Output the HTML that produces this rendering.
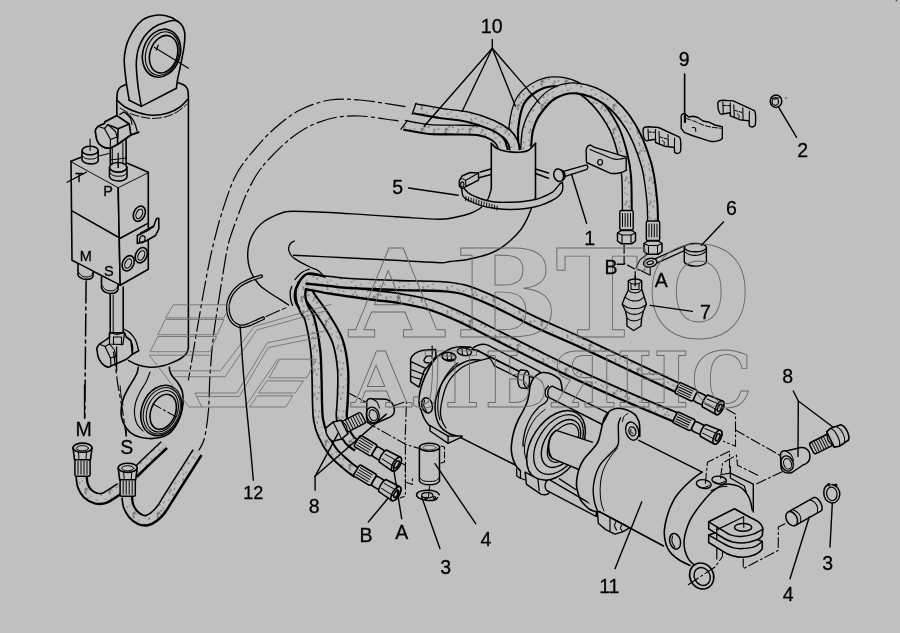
<!DOCTYPE html>
<html><head><meta charset="utf-8"><title>Hydraulic cylinder diagram</title>
<style>
html,body{margin:0;padding:0;background:#c0c0c0;}
body{width:900px;height:633px;overflow:hidden;}
svg{display:block;filter:grayscale(1);font-family:"Liberation Sans",sans-serif;fill:#000;}

</style></head><body>
<svg width="900" height="633" viewBox="0 0 900 633" stroke-linecap="round" stroke-linejoin="round">
<defs><pattern id="stip" width="24" height="24" patternUnits="userSpaceOnUse"><rect width="24" height="24" fill="#c0c0c0"/><circle cx="7.8" cy="3.6" r="0.65" fill="#222"/><circle cx="1.7" cy="12.9" r="0.56" fill="#222"/><circle cx="1.4" cy="12.2" r="0.46" fill="#222"/><circle cx="10.4" cy="1.7" r="0.48" fill="#222"/><circle cx="10.2" cy="19.8" r="0.49" fill="#222"/><circle cx="5.4" cy="15.1" r="0.73" fill="#222"/><circle cx="13.9" cy="9.5" r="0.74" fill="#222"/><circle cx="1.1" cy="20.6" r="0.54" fill="#222"/><circle cx="3.5" cy="2.8" r="0.54" fill="#222"/><circle cx="19.6" cy="4.3" r="0.62" fill="#222"/><circle cx="15.3" cy="8.9" r="0.61" fill="#222"/><circle cx="1.5" cy="1.4" r="0.51" fill="#222"/><circle cx="16.3" cy="10.3" r="0.54" fill="#222"/><circle cx="14.1" cy="10.9" r="0.54" fill="#222"/><circle cx="19.1" cy="16.8" r="0.52" fill="#222"/><circle cx="13.8" cy="12.6" r="0.71" fill="#222"/><circle cx="17.5" cy="6.9" r="0.74" fill="#222"/><circle cx="2.8" cy="10.0" r="0.68" fill="#222"/><circle cx="3.6" cy="11.7" r="0.46" fill="#222"/><circle cx="16.0" cy="18.3" r="0.62" fill="#222"/><circle cx="21.0" cy="7.5" r="0.66" fill="#222"/><circle cx="14.3" cy="13.9" r="0.59" fill="#222"/><circle cx="20.2" cy="22.7" r="0.59" fill="#222"/><circle cx="15.9" cy="1.5" r="0.66" fill="#222"/><circle cx="15.5" cy="23.8" r="0.70" fill="#222"/><circle cx="6.8" cy="9.3" r="0.65" fill="#222"/></pattern></defs>
<rect width="900" height="633" fill="#c0c0c0"/>
<rect x="895.6" y="0" width="1.6" height="1.4" fill="#555"/>
<path d="M405.0 106.6 C402.5 106.2 397.5 105.3 390.0 104.2 C382.5 103.1 370.0 100.7 360.0 100.0 C350.0 99.3 340.0 98.3 330.0 100.0 C320.0 101.7 309.2 105.3 300.0 110.0 C290.8 114.7 282.7 121.3 275.0 128.0 C267.3 134.7 260.5 142.2 254.0 150.0 C247.5 157.8 241.3 164.8 236.0 175.0 C230.7 185.2 226.4 198.5 222.4 211.0 C218.4 223.5 215.1 236.8 212.0 250.0 C208.9 263.2 206.5 276.7 204.0 290.0 C201.5 303.3 199.2 317.5 197.0 330.0 C194.8 342.5 192.4 356.7 191.0 365.0 C189.6 373.3 188.8 377.5 188.4 380.0" fill="none" stroke="#000" stroke-width="1.2" stroke-dasharray="20 4 3 4"/>
<path d="M398.0 120.8 C395.8 120.5 391.3 119.8 385.0 119.0 C378.7 118.2 368.3 116.2 360.0 116.0 C351.7 115.8 343.3 115.8 335.0 117.5 C326.7 119.2 317.5 122.4 310.0 126.0 C302.5 129.6 296.7 133.7 290.0 139.0 C283.3 144.3 275.6 152.1 270.0 158.0 C264.4 163.9 260.7 168.3 256.7 174.5 C252.7 180.7 248.8 188.9 246.0 195.0 C243.2 201.1 242.1 204.5 239.6 211.2 C237.1 217.9 233.1 228.5 231.0 235.0 C228.9 241.5 228.4 242.9 227.0 250.0 C225.6 257.1 223.9 268.2 222.4 277.4 C220.9 286.6 219.6 294.6 218.0 305.0 C216.4 315.4 214.3 328.3 213.0 340.0 C211.7 351.7 210.8 363.3 210.0 375.0 C209.2 386.7 209.4 399.5 208.5 410.0 C207.6 420.5 206.1 431.3 204.5 438.0 C202.9 444.7 199.9 448.0 199.0 450.0" fill="none" stroke="#000" stroke-width="1.2" stroke-dasharray="20 4 3 4"/>
<line x1="116.8" y1="98.0" x2="116.8" y2="120.0" stroke="#000" stroke-width="1.6" />
<line x1="188.4" y1="96.0" x2="188.4" y2="348.0" stroke="#000" stroke-width="1.6" />
<path d="M116.8 99.0 C116.9 97.8 117.0 93.9 117.5 92.0 C118.0 90.1 118.6 88.8 120.0 87.5 C121.4 86.2 125.0 85.0 126.0 84.5" fill="none" stroke="#000" stroke-width="1.6" />
<path d="M178.0 82.5 C179.0 82.9 182.4 83.9 184.0 85.0 C185.6 86.1 186.8 87.2 187.5 89.0 C188.2 90.8 188.2 94.8 188.4 96.0" fill="none" stroke="#000" stroke-width="1.6" />
<path d="M116.8 100.0 C118.2 101.2 121.5 104.9 125.0 107.0 C128.5 109.1 133.4 111.1 138.0 112.5 C142.6 113.9 147.3 115.1 152.3 115.2 C157.3 115.3 163.4 114.4 168.0 113.0 C172.6 111.6 176.6 109.4 180.0 107.0 C183.4 104.6 187.0 99.9 188.4 98.5" fill="none" stroke="#000" stroke-width="1.6" />
<path d="M120.0 108.0 C121.7 108.9 126.3 112.0 130.0 113.5 C133.7 115.0 138.3 116.2 142.0 117.0 C145.7 117.8 148.2 118.4 152.0 118.4 C155.8 118.4 160.8 118.1 165.0 117.0 C169.2 115.9 173.4 114.1 177.0 112.0 C180.6 109.9 184.9 105.8 186.5 104.5" fill="none" stroke="#000" stroke-width="1.0" stroke-dasharray="9 2.5"/>
<path d="M129.2 100.3 C128.7 96.9 126.8 86.7 126.0 80.0 C125.2 73.3 124.2 65.7 124.2 60.2 C124.2 54.7 125.2 50.7 126.0 47.0 C126.8 43.3 127.7 41.3 129.2 38.1 C130.7 34.9 132.8 31.0 135.0 28.0 C137.2 25.0 139.8 22.0 142.3 20.1 C144.8 18.2 147.3 17.4 150.0 16.5 C152.7 15.7 155.6 15.1 158.3 15.0 C161.0 14.9 163.7 15.3 166.0 15.8 C168.3 16.3 171.3 17.6 172.4 18.0" fill="none" stroke="#000" stroke-width="1.6" />
<path d="M141.3 106.4 C140.8 103.0 138.8 92.7 138.0 86.0 C137.2 79.3 136.5 71.4 136.3 66.2 C136.1 61.0 136.5 58.3 137.0 55.0 C137.5 51.7 138.1 49.2 139.3 46.2 C140.5 43.2 142.2 39.7 144.0 37.0 C145.8 34.3 148.0 32.1 150.3 30.1 C152.6 28.1 155.3 26.3 158.0 25.0 C160.7 23.7 163.9 22.9 166.4 22.1 C168.9 21.4 171.1 20.6 173.0 20.5 C174.9 20.4 176.4 20.6 178.0 21.5 C179.6 22.4 181.3 24.2 182.4 26.0 C183.5 27.8 184.2 30.0 184.6 32.0 C185.0 34.0 184.9 35.5 184.8 38.0 C184.7 40.5 184.4 44.0 184.0 47.0 C183.6 50.0 183.1 52.5 182.4 56.0 C181.7 59.5 180.8 64.0 180.0 68.0 C179.2 72.0 178.0 76.9 177.4 80.3 C176.8 83.7 176.6 87.0 176.4 88.3 L141.3 106.4" fill="#c0c0c0" stroke="#000" stroke-width="1.6" />
<path d="M172.4 18.0 L178.0 21.5" fill="none" stroke="#000" stroke-width="1.6" />
<path d="M129.2 100.3 L141.3 106.4" fill="none" stroke="#000" stroke-width="1.6" />
<ellipse cx="161.5" cy="53.2" rx="18.5" ry="24.5" fill="none" stroke="#000" stroke-width="1.6" transform="rotate(18.0 161.5 53.2)" />
<ellipse cx="162.3" cy="53.6" rx="16.3" ry="22.3" fill="none" stroke="#000" stroke-width="1.1" transform="rotate(18.0 162.3 53.6)" />
<ellipse cx="163.6" cy="54.2" rx="13.6" ry="19.2" fill="none" stroke="#000" stroke-width="1.6" transform="rotate(18.0 163.6 54.2)" />
<line x1="154.3" y1="47.2" x2="188.4" y2="68.2" stroke="#000" stroke-width="1.2" />
<line x1="158.3" y1="45.0" x2="156.3" y2="50.0" stroke="#000" stroke-width="1.2" />
<path d="M71.0 161.2 L118.2 187.3 L120.2 285.3 L72.0 260.2Z" fill="#c0c0c0" stroke="#000" stroke-width="1.6" />
<path d="M118.2 187.3 L148.3 172.3 L148.3 269.3 L120.2 285.3Z" fill="#c0c0c0" stroke="#000" stroke-width="1.6" />
<path d="M71.0 161.2 L103.2 150.2 L148.3 172.3 L118.2 187.3Z" fill="#c0c0c0" stroke="none" stroke-width="1.6" />
<path d="M71.0 161.2 L81.0 157.3" fill="none" stroke="#000" stroke-width="1.6" />
<path d="M99.0 156.0 L109.0 153.5" fill="none" stroke="#000" stroke-width="1.0" />
<path d="M127.5 163.3 L148.3 172.3" fill="none" stroke="#000" stroke-width="1.6" />
<path d="M72.4 211.1 L120.2 238.2 L148.3 223.1" fill="none" stroke="#000" stroke-width="1.6" />
<ellipse cx="139.3" cy="213.7" rx="5.6" ry="8.0" fill="none" stroke="#000" stroke-width="1.6" transform="rotate(25.0 139.3 213.7)" />
<ellipse cx="139.3" cy="213.9" rx="3.0" ry="5.0" fill="none" stroke="#000" stroke-width="1.1" transform="rotate(25.0 139.3 213.9)" />
<ellipse cx="141.3" cy="255.2" rx="5.6" ry="8.0" fill="none" stroke="#000" stroke-width="1.6" transform="rotate(25.0 141.3 255.2)" />
<ellipse cx="141.3" cy="255.4" rx="3.0" ry="5.0" fill="none" stroke="#000" stroke-width="1.1" transform="rotate(25.0 141.3 255.4)" />
<ellipse cx="128.2" cy="263.3" rx="5.6" ry="8.0" fill="none" stroke="#000" stroke-width="1.6" transform="rotate(25.0 128.2 263.3)" />
<ellipse cx="128.2" cy="263.5" rx="3.0" ry="5.0" fill="none" stroke="#000" stroke-width="1.1" transform="rotate(25.0 128.2 263.5)" />
<path d="M137.3 235.5 L137.3 243.5 L146 241 L155.5 235.5 L158.8 229 L158.8 218.2 L156.5 218.5 L153.5 226.5 L146.5 231 Z" fill="#c0c0c0" stroke="#000" stroke-width="1.6" />
<ellipse cx="142.3" cy="239.2" rx="2.6" ry="3.6" fill="none" stroke="#000" stroke-width="1.2" transform="rotate(20.0 142.3 239.2)" />
<path d="M140.0 233.0 L153.0 226.0" fill="none" stroke="#000" stroke-width="1.0" />
<path d="M82 151 L82 160 C84 164.5 96 165.5 98.2 161 L98.2 151" fill="#c0c0c0" stroke="#000" stroke-width="1.6" />
<ellipse cx="90.1" cy="150.6" rx="8.0" ry="4.3" fill="#c0c0c0" stroke="#000" stroke-width="1.6" />
<path d="M82.2 155.5 C82.8 156.0 84.0 158.0 86.0 158.6 C88.0 159.2 92.0 159.2 94.0 158.8 C96.0 158.4 97.3 156.5 98.0 156.0" fill="none" stroke="#000" stroke-width="1.0" />
<line x1="90.1" y1="139.2" x2="90.1" y2="150.5" stroke="#000" stroke-width="1.1" />
<path d="M109.5 167.5 L109.5 177 C112 182 125 182.5 127 177 L127 167.5" fill="#c0c0c0" stroke="#000" stroke-width="1.6" />
<ellipse cx="118.2" cy="167.3" rx="8.6" ry="4.8" fill="#c0c0c0" stroke="#000" stroke-width="1.6" />
<path d="M109.7 172.5 C110.4 173.1 111.8 175.2 114.0 175.8 C116.2 176.4 120.9 176.3 123.0 175.8 C125.1 175.3 126.2 173.3 126.8 172.8" fill="none" stroke="#000" stroke-width="1.0" />
<line x1="118.2" y1="154.5" x2="118.2" y2="167.5" stroke="#000" stroke-width="1.1" />
<line x1="110.2" y1="160.0" x2="126.2" y2="158.0" stroke="#000" stroke-width="1.0" />
<rect x="110.3" y="140" width="15.8" height="21" fill="#c0c0c0" stroke="none"/>
<line x1="110.3" y1="147.5" x2="110.3" y2="164.0" stroke="#000" stroke-width="1.6" />
<line x1="112.3" y1="148.0" x2="112.3" y2="164.0" stroke="#000" stroke-width="1.0" />
<line x1="126.1" y1="140.0" x2="126.1" y2="164.0" stroke="#000" stroke-width="1.6" />
<line x1="122.9" y1="143.0" x2="122.9" y2="164.0" stroke="#000" stroke-width="1.0" />
<line x1="118.2" y1="153.0" x2="118.2" y2="167.5" stroke="#000" stroke-width="1.2" />
<line x1="110.2" y1="160.0" x2="126.2" y2="158.0" stroke="#000" stroke-width="1.0" />
<path d="M119.8 114.5 L123.7 112.1" fill="none" stroke="#000" stroke-width="1.3" />
<path d="M123.7 112.1 C124.6 112.6 127.5 113.8 129.0 115.0 C130.4 116.2 131.4 117.7 132.4 119.2 C133.4 120.7 134.3 122.5 135.0 124.0 C135.7 125.5 136.0 126.6 136.3 127.9 C136.7 129.2 137.0 131.2 137.1 131.9" fill="none" stroke="#000" stroke-width="1.3" />
<path d="M126.1 113.7 C126.8 114.5 129.5 116.7 130.5 118.5 C131.5 120.3 131.8 123.5 132.0 124.5" fill="none" stroke="#000" stroke-width="1.1" />
<path d="M104.7 122 L116.6 115.7 L129.2 124 L130.8 135 L138.7 132.3 M130.8 135 L117.4 144.5 L111.1 147.7 C104 149.5 98 144 96.8 139.8 L95.3 131.1 C95.8 127.5 97.6 126.3 104.7 123.6 Z" fill="#c0c0c0" stroke="#000" stroke-width="1.6" />
<path d="M104.7 122 L116.6 115.7 L129.2 124 L130.8 135 L117.4 144.5 L111.1 147.7 C104 149.5 98 144 96.8 139.8 L95.3 131.1 C95.8 127.5 97.6 126.3 104.7 123.6 Z" fill="#c0c0c0" stroke="#000" stroke-width="1.6" />
<path d="M130.8 135.0 L138.7 132.3" fill="none" stroke="#000" stroke-width="1.6" />
<path d="M107.9 124.7 L118.2 128.7 L129.2 124.0" fill="none" stroke="#000" stroke-width="1.6" />
<path d="M118.2 128.7 L117.4 144.5" fill="none" stroke="#000" stroke-width="1.6" />
<path d="M97.6 126.3 L104.5 128.5 L107.9 124.7" fill="none" stroke="#000" stroke-width="1.2" />
<path d="M104.5 128.5 L110.5 139.5 L117.2 137.0" fill="none" stroke="#000" stroke-width="1.2" />
<path d="M110.5 139.5 L110.3 147.5" fill="none" stroke="#000" stroke-width="1.2" />
<path d="M107.9 124.7 L115.5 131.5 L117.4 138.0" fill="none" stroke="#000" stroke-width="1.1" />
<line x1="116.6" y1="105.0" x2="116.6" y2="115.3" stroke="#000" stroke-width="1.2" />
<line x1="67.0" y1="182.3" x2="86.5" y2="172.1" stroke="#000" stroke-width="1.2" />
<path d="M78 264 L78 275 C80 280 91 281 93 276.5 L93 272" fill="#c0c0c0" stroke="#000" stroke-width="1.6" />
<path d="M78.3 272.0 C79.1 272.8 81.0 275.8 83.0 276.5 C85.0 277.2 88.3 277.1 90.0 276.5 C91.7 275.9 92.5 273.6 93.0 273.0" fill="none" stroke="#000" stroke-width="1.0" />
<path d="M101.5 277 L101.5 288 C104 294.5 116 295.5 118 289.5 L118 284.5" fill="#c0c0c0" stroke="#000" stroke-width="1.6" />
<path d="M101.8 285.0 C102.5 285.8 104.0 289.1 106.0 290.0 C108.0 290.9 112.0 291.2 114.0 290.5 C116.0 289.8 117.3 286.8 118.0 286.0" fill="none" stroke="#000" stroke-width="1.0" />
<line x1="110.2" y1="294.5" x2="110.2" y2="333.0" stroke="#000" stroke-width="1.6" />
<line x1="113.2" y1="295.0" x2="113.2" y2="333.0" stroke="#000" stroke-width="1.0" />
<line x1="123.2" y1="287.0" x2="123.2" y2="333.0" stroke="#000" stroke-width="1.6" />
<path d="M86.1 281 L84.8 418" fill="none" stroke="#000" stroke-width="1.5" stroke-dasharray="22 4 3 4"/>
<path d="M188.4 348.0 C188.0 349.0 187.4 352.2 186.0 354.0 C184.6 355.8 182.3 357.6 180.0 359.0 C177.7 360.4 175.4 361.3 172.4 362.5 C169.4 363.7 165.7 365.2 162.0 366.0 C158.3 366.8 154.3 367.5 150.3 367.3 C146.3 367.1 141.6 366.1 138.0 365.0 C134.4 363.9 130.1 361.2 128.5 360.5" fill="none" stroke="#000" stroke-width="1.5" />
<path d="M123.7 329.0 C124.6 329.5 127.5 330.9 129.0 332.0 C130.4 333.1 131.3 334.0 132.4 335.3 C133.5 336.6 134.7 338.4 135.5 340.0 C136.3 341.6 136.6 342.9 137.1 344.7 C137.6 346.5 138.4 349.7 138.7 350.7" fill="none" stroke="#000" stroke-width="1.3" />
<path d="M126.1 336.8 C126.7 337.2 128.6 338.1 129.5 339.0 C130.4 339.9 131.0 340.9 131.6 342.4 C132.2 343.9 132.7 346.0 132.8 348.0 C132.9 350.0 132.5 353.2 132.4 354.2" fill="none" stroke="#000" stroke-width="1.2" />
<path d="M106.3 339.6 L109.5 337 L109.5 332.9 L124.5 332.9 L126.1 336.8 L131 341 L132.4 354.2 L126.9 359 L118.2 362.9 L112.6 365.3 L108.7 367.3 C103 366.5 99 360 98 356.6 L96.8 348.7 C97.2 345.5 99.2 344 106.3 339.6 Z" fill="#c0c0c0" stroke="#000" stroke-width="1.6" />
<path d="M132.4 354.2 L138.7 350.7" fill="none" stroke="#000" stroke-width="1.6" />
<path d="M109.5 332.9 L109.5 344.0 L122.9 344.7 L124.5 332.9" fill="none" stroke="#000" stroke-width="1.2" />
<path d="M113.5 337.0 L121.5 337.0 L121.5 344.5" fill="none" stroke="#000" stroke-width="1.1" />
<line x1="113.5" y1="337.0" x2="113.5" y2="344.2" stroke="#000" stroke-width="1.1" />
<path d="M99.2 344.0 L105.0 346.5 L109.5 344.0" fill="none" stroke="#000" stroke-width="1.2" />
<path d="M105.0 346.5 L110.5 358.0 L116.5 356.0" fill="none" stroke="#000" stroke-width="1.2" />
<path d="M110.5 358.0 L111.0 366.0" fill="none" stroke="#000" stroke-width="1.2" />
<path d="M109.5 344.0 L114.5 350.0 L116.8 362.5" fill="none" stroke="#000" stroke-width="1.1" />
<path d="M111.9 332.9 C112.8 333.2 115.2 334.5 117.0 334.5 C118.8 334.5 121.9 333.2 122.9 332.9" fill="none" stroke="#000" stroke-width="1.0" />
<line x1="116.6" y1="347.0" x2="116.6" y2="370.8" stroke="#000" stroke-width="1.3" />
<path d="M138.3 367.3 C138.1 368.2 137.7 371.2 137.0 373.0 C136.3 374.8 135.6 376.0 134.3 378.3 C133.0 380.6 130.7 384.0 129.0 387.0 C127.3 390.0 125.5 393.2 124.2 396.4 C123.0 399.6 122.0 402.6 121.5 406.0 C121.0 409.4 120.7 413.3 121.5 417.0 C122.3 420.7 124.0 424.9 126.2 428.0 C128.4 431.1 131.3 433.8 135.0 435.5 C138.7 437.2 144.1 438.2 148.3 438.5 C152.5 438.8 156.7 438.2 160.0 437.5 C163.3 436.8 165.9 435.9 168.4 434.2 C170.9 432.4 173.0 430.0 175.0 427.0 C177.0 424.0 179.1 419.9 180.4 416.1 C181.7 412.3 182.7 408.0 183.0 404.0 C183.3 400.0 183.2 395.5 182.4 392.0 C181.6 388.5 179.7 385.6 178.0 383.0 C176.3 380.4 173.8 378.3 172.4 376.3 C171.0 374.3 170.3 372.5 169.8 371.0 C169.3 369.5 169.5 367.9 169.4 367.3" fill="none" stroke="#000" stroke-width="1.6" />
<path d="M150.0 372.0 C149.3 373.7 147.7 378.7 146.0 382.0 C144.3 385.3 141.8 388.5 140.0 392.0 C138.2 395.5 136.4 399.3 135.5 403.0 C134.6 406.7 134.2 410.5 134.5 414.0 C134.8 417.5 135.6 421.2 137.0 424.0 C138.4 426.8 142.0 429.8 143.0 431.0" fill="none" stroke="#000" stroke-width="1.1" />
<ellipse cx="161.3" cy="410.5" rx="19.5" ry="26.0" fill="none" stroke="#000" stroke-width="1.6" transform="rotate(22.0 161.3 410.5)" />
<ellipse cx="161.8" cy="410.8" rx="17.5" ry="24.0" fill="none" stroke="#000" stroke-width="1.0" transform="rotate(22.0 161.8 410.8)" />
<ellipse cx="162.3" cy="411.2" rx="15.0" ry="21.5" fill="none" stroke="#000" stroke-width="1.1" transform="rotate(22.0 162.3 411.2)" />
<ellipse cx="163.2" cy="411.8" rx="12.2" ry="18.2" fill="none" stroke="#000" stroke-width="1.6" transform="rotate(22.0 163.2 411.8)" />
<path d="M153.0 404.0 L176.4 417.0" fill="none" stroke="#000" stroke-width="1.1" stroke-dasharray="9 3 2 3"/>
<path d="M113.5 352 L118 386 L122.5 410 L126.2 436" fill="none" stroke="#000" stroke-width="1.2" stroke-dasharray="14 4 3 4"/>
<path d="M120.2 386.0 C120.3 387.5 120.5 391.8 121.0 395.0 C121.5 398.2 122.7 403.3 123.0 405.0" fill="none" stroke="#000" stroke-width="1.0" />
<line x1="84.5" y1="385.0" x2="84.5" y2="418.0" stroke="#000" stroke-width="1.3" />
<path d="M134.0 474.0 C136.7 471.4 144.9 463.3 150.0 458.5 C155.1 453.7 161.9 447.3 164.3 445.1" fill="none" stroke="#000" stroke-width="10.5" stroke-linecap="butt"/>
<path d="M134.0 474.0 C136.7 471.4 144.9 463.3 150.0 458.5 C155.1 453.7 161.9 447.3 164.3 445.1" fill="none" stroke="url(#stip)" stroke-width="6.5" stroke-linecap="butt" transform="translate(-0.35 -0.40)"/>
<path d="M127.2 497.0 C127.4 498.5 127.5 503.2 128.5 506.0 C129.5 508.8 131.1 511.8 133.0 514.0 C134.9 516.2 137.7 518.4 140.0 519.5 C142.3 520.6 144.7 520.9 147.0 520.5 C149.3 520.1 151.7 518.8 154.0 517.0 C156.3 515.2 158.7 513.0 161.0 510.0 C163.3 507.0 164.8 504.0 168.0 499.0 C171.2 494.0 175.1 487.7 180.0 480.0 C184.9 472.3 194.6 457.2 197.5 452.6" fill="none" stroke="#000" stroke-width="12.0" stroke-linecap="butt"/>
<path d="M127.2 497.0 C127.4 498.5 127.5 503.2 128.5 506.0 C129.5 508.8 131.1 511.8 133.0 514.0 C134.9 516.2 137.7 518.4 140.0 519.5 C142.3 520.6 144.7 520.9 147.0 520.5 C149.3 520.1 151.7 518.8 154.0 517.0 C156.3 515.2 158.7 513.0 161.0 510.0 C163.3 507.0 164.8 504.0 168.0 499.0 C171.2 494.0 175.1 487.7 180.0 480.0 C184.9 472.3 194.6 457.2 197.5 452.6" fill="none" stroke="url(#stip)" stroke-width="8.0" stroke-linecap="butt" transform="translate(-0.35 -0.40)"/>
<path d="M81.5 476.0 C81.8 477.7 81.9 483.0 83.0 486.0 C84.1 489.0 85.8 491.9 88.0 494.0 C90.2 496.1 93.2 497.8 96.0 498.5 C98.8 499.2 100.9 499.7 105.0 498.0 C109.1 496.3 117.9 489.8 120.5 488.2" fill="none" stroke="#000" stroke-width="12.5" stroke-linecap="butt"/>
<path d="M81.5 476.0 C81.8 477.7 81.9 483.0 83.0 486.0 C84.1 489.0 85.8 491.9 88.0 494.0 C90.2 496.1 93.2 497.8 96.0 498.5 C98.8 499.2 100.9 499.7 105.0 498.0 C109.1 496.3 117.9 489.8 120.5 488.2" fill="none" stroke="url(#stip)" stroke-width="8.5" stroke-linecap="butt" transform="translate(-0.35 -0.40)"/>
<rect x="74.9" y="458.2" width="15.2" height="18" rx="1.5" fill="#c0c0c0" stroke="#000" stroke-width="1.5"/>
<line x1="78.0" y1="461.2" x2="78.0" y2="474.2" stroke="#000" stroke-width="1.0" />
<line x1="81.0" y1="461.2" x2="81.0" y2="474.2" stroke="#000" stroke-width="1.0" />
<line x1="84.0" y1="461.2" x2="84.0" y2="474.2" stroke="#000" stroke-width="1.0" />
<line x1="87.0" y1="461.2" x2="87.0" y2="474.2" stroke="#000" stroke-width="1.0" />
<path d="M73.0 447.7 L74.5 459.7 L90.5 459.7 L92.0 447.7 Z" fill="#c0c0c0" stroke="#000" stroke-width="1.6" />
<ellipse cx="82.5" cy="447.7" rx="9.5" ry="4.6" fill="#c0c0c0" stroke="#000" stroke-width="1.6" />
<ellipse cx="82.5" cy="448.2" rx="6.0" ry="2.6" fill="none" stroke="#000" stroke-width="1.0" />
<line x1="78.5" y1="452.2" x2="79.0" y2="459.2" stroke="#000" stroke-width="1.0" />
<line x1="86.5" y1="452.2" x2="86.0" y2="459.2" stroke="#000" stroke-width="1.0" />
<rect x="120.1" y="478.3" width="15.2" height="18" rx="1.5" fill="#c0c0c0" stroke="#000" stroke-width="1.5"/>
<line x1="123.2" y1="481.3" x2="123.2" y2="494.3" stroke="#000" stroke-width="1.0" />
<line x1="126.2" y1="481.3" x2="126.2" y2="494.3" stroke="#000" stroke-width="1.0" />
<line x1="129.2" y1="481.3" x2="129.2" y2="494.3" stroke="#000" stroke-width="1.0" />
<line x1="132.2" y1="481.3" x2="132.2" y2="494.3" stroke="#000" stroke-width="1.0" />
<path d="M118.2 467.8 L119.7 479.8 L135.7 479.8 L137.2 467.8 Z" fill="#c0c0c0" stroke="#000" stroke-width="1.6" />
<ellipse cx="127.7" cy="467.8" rx="9.5" ry="4.6" fill="#c0c0c0" stroke="#000" stroke-width="1.6" />
<ellipse cx="127.7" cy="468.3" rx="6.0" ry="2.6" fill="none" stroke="#000" stroke-width="1.0" />
<line x1="123.7" y1="472.3" x2="124.2" y2="479.3" stroke="#000" stroke-width="1.0" />
<line x1="131.7" y1="472.3" x2="131.2" y2="479.3" stroke="#000" stroke-width="1.0" />
<line x1="126.2" y1="430.2" x2="126.2" y2="436.0" stroke="#000" stroke-width="1.2" />
<path d="M514.0 150.0 C514.0 146.0 513.0 134.0 514.0 126.0 C515.0 118.0 516.7 108.3 520.0 102.0 C523.3 95.7 528.5 91.4 534.0 88.0 C539.5 84.6 546.2 82.1 553.0 81.8 C559.8 81.5 567.8 82.6 575.0 86.0 C582.2 89.4 589.5 95.0 596.0 102.0 C602.5 109.0 609.5 119.2 614.0 128.0 C618.5 136.8 620.9 146.8 623.0 155.0 C625.1 163.2 625.9 167.3 626.6 177.0 C627.3 186.7 627.2 207.0 627.3 213.0" fill="none" stroke="#000" stroke-width="11.0" stroke-linecap="butt"/>
<path d="M514.0 150.0 C514.0 146.0 513.0 134.0 514.0 126.0 C515.0 118.0 516.7 108.3 520.0 102.0 C523.3 95.7 528.5 91.4 534.0 88.0 C539.5 84.6 546.2 82.1 553.0 81.8 C559.8 81.5 567.8 82.6 575.0 86.0 C582.2 89.4 589.5 95.0 596.0 102.0 C602.5 109.0 609.5 119.2 614.0 128.0 C618.5 136.8 620.9 146.8 623.0 155.0 C625.1 163.2 625.9 167.3 626.6 177.0 C627.3 186.7 627.2 207.0 627.3 213.0" fill="none" stroke="url(#stip)" stroke-width="7.6" stroke-linecap="butt" transform="translate(-0.35 -0.40)"/>
<path d="M526.0 150.0 C526.3 146.7 526.4 136.3 528.0 130.0 C529.6 123.7 531.6 118.0 535.8 112.0 C540.0 106.0 546.3 97.9 553.2 94.0 C560.1 90.1 568.0 87.5 577.0 88.5 C586.0 89.5 598.1 93.7 607.0 100.0 C615.9 106.3 624.0 115.7 630.6 126.4 C637.2 137.1 642.8 152.2 646.4 164.3 C650.0 176.4 650.9 189.4 652.0 199.0 C653.1 208.6 652.8 218.2 653.0 222.0" fill="none" stroke="#000" stroke-width="12.0" stroke-linecap="butt"/>
<path d="M526.0 150.0 C526.3 146.7 526.4 136.3 528.0 130.0 C529.6 123.7 531.6 118.0 535.8 112.0 C540.0 106.0 546.3 97.9 553.2 94.0 C560.1 90.1 568.0 87.5 577.0 88.5 C586.0 89.5 598.1 93.7 607.0 100.0 C615.9 106.3 624.0 115.7 630.6 126.4 C637.2 137.1 642.8 152.2 646.4 164.3 C650.0 176.4 650.9 189.4 652.0 199.0 C653.1 208.6 652.8 218.2 653.0 222.0" fill="none" stroke="url(#stip)" stroke-width="8.6" stroke-linecap="butt" transform="translate(-0.35 -0.40)"/>
<path d="M404.0 125.2 C408.3 125.9 421.3 128.7 430.0 129.5 C438.7 130.3 447.7 129.8 456.0 130.0 C464.3 130.2 473.7 130.0 480.0 131.0 C486.3 132.0 490.5 134.0 494.0 136.0 C497.5 138.0 499.4 140.3 501.0 143.0 C502.6 145.7 503.1 150.5 503.5 152.0" fill="none" stroke="#000" stroke-width="11.0" stroke-linecap="butt"/>
<path d="M404.0 125.2 C408.3 125.9 421.3 128.7 430.0 129.5 C438.7 130.3 447.7 129.8 456.0 130.0 C464.3 130.2 473.7 130.0 480.0 131.0 C486.3 132.0 490.5 134.0 494.0 136.0 C497.5 138.0 499.4 140.3 501.0 143.0 C502.6 145.7 503.1 150.5 503.5 152.0" fill="none" stroke="url(#stip)" stroke-width="7.6" stroke-linecap="butt" transform="translate(-0.35 -0.40)"/>
<path d="M414.1 108.6 C418.8 109.4 433.0 112.2 442.0 113.6 C451.0 115.0 459.7 115.3 468.0 117.2 C476.3 119.1 485.5 122.2 492.0 125.0 C498.5 127.8 503.4 131.0 507.0 134.0 C510.6 137.0 512.2 140.0 513.5 143.0 C514.8 146.0 514.8 150.5 515.0 152.0" fill="none" stroke="#000" stroke-width="11.5" stroke-linecap="butt"/>
<path d="M414.1 108.6 C418.8 109.4 433.0 112.2 442.0 113.6 C451.0 115.0 459.7 115.3 468.0 117.2 C476.3 119.1 485.5 122.2 492.0 125.0 C498.5 127.8 503.4 131.0 507.0 134.0 C510.6 137.0 512.2 140.0 513.5 143.0 C514.8 146.0 514.8 150.5 515.0 152.0" fill="none" stroke="url(#stip)" stroke-width="8.1" stroke-linecap="butt" transform="translate(-0.35 -0.40)"/>
<line x1="416.1" y1="103.1" x2="412.1" y2="114.2" stroke="#000" stroke-width="1.3" />
<line x1="407.1" y1="121.2" x2="401.0" y2="129.2" stroke="#000" stroke-width="1.3" />
<path d="M491.3 143.3 L491.3 190 L535.5 198 L535.5 143.3 C530 152.5 497 153 491.3 143.3 Z" fill="#c0c0c0" stroke="none" stroke-width="1.6" />
<line x1="491.3" y1="143.3" x2="491.3" y2="188.5" stroke="#000" stroke-width="1.6" />
<line x1="535.5" y1="143.3" x2="535.5" y2="197.2" stroke="#000" stroke-width="1.6" />
<path d="M491.3 143.3 C492.2 144.2 494.4 147.1 497.0 148.5 C499.6 149.9 503.4 150.9 507.0 151.5 C510.6 152.1 514.9 152.5 518.4 152.3 C521.9 152.1 525.1 152.0 528.0 150.5 C530.9 149.0 534.2 144.5 535.5 143.3" fill="none" stroke="#000" stroke-width="1.6" />
<path d="M480.2 172.1 L491.0 169.0" fill="none" stroke="#000" stroke-width="1.6" />
<path d="M478.0 178.0 L491.0 174.5" fill="none" stroke="#000" stroke-width="1.6" />
<path d="M535.5 169.1 L548.4 173.1" fill="none" stroke="#000" stroke-width="1.6" />
<path d="M535.5 173.5 L548.4 178.2" fill="none" stroke="#000" stroke-width="1.6" />
<path d="M491.3 188.5 C490.8 190.2 489.9 195.7 488.0 199.0 C486.1 202.3 483.2 205.9 480.2 208.3 C477.2 210.7 473.4 212.2 470.0 213.5 C466.6 214.8 465.2 215.3 460.1 216.3 C455.1 217.3 449.7 219.2 439.7 219.3 C429.7 219.4 412.1 217.7 400.0 217.0 C387.9 216.3 378.7 215.7 367.0 214.9 C355.3 214.2 342.2 213.1 330.0 212.5 C317.8 211.9 301.3 211.2 293.5 211.2 C285.7 211.2 286.3 211.7 283.0 212.5 C279.7 213.3 277.1 214.6 273.9 216.1 C270.7 217.6 266.9 219.4 264.0 221.5 C261.1 223.6 258.9 225.7 256.7 228.4 C254.5 231.2 252.4 234.7 251.0 238.0 C249.6 241.3 248.7 244.7 248.2 248.0 C247.7 251.3 247.6 254.7 247.8 258.0 C248.0 261.3 248.5 264.6 249.4 267.6 C250.3 270.6 251.4 273.1 253.0 276.0 C254.6 278.9 256.9 282.2 259.2 284.7 C261.5 287.2 264.1 288.9 267.0 291.0 C269.9 293.1 272.7 294.7 276.3 297.0 C279.9 299.3 286.6 303.7 288.6 305.0" fill="none" stroke="#000" stroke-width="1.4" />
<path d="M535.5 197.2 C535.2 198.2 534.7 201.2 534.0 203.0 C533.3 204.8 532.6 205.6 531.4 208.3 C530.2 211.0 528.9 215.3 527.0 219.0 C525.1 222.7 523.0 226.8 520.3 230.3 C517.6 233.8 514.3 237.0 511.0 240.0 C507.7 243.0 503.8 246.2 500.3 248.4 C496.8 250.7 493.7 252.1 490.0 253.5 C486.3 254.9 482.4 255.9 478.2 257.0 C474.0 258.1 469.7 259.2 465.0 260.0 C460.3 260.8 454.2 261.1 450.0 261.5 C445.8 261.9 448.0 262.9 439.7 262.7 C431.4 262.5 414.9 261.3 400.0 260.5 C385.1 259.7 367.8 258.9 350.0 258.0 C332.2 257.1 302.9 255.8 293.5 255.3" fill="none" stroke="#000" stroke-width="1.4" />
<path d="M294.3 241.0 C293.7 241.4 291.4 242.3 290.5 243.5 C289.6 244.7 288.7 246.3 288.6 248.0 C288.5 249.7 289.2 251.9 290.0 253.5 C290.8 255.1 291.8 256.4 293.5 257.8 C295.2 259.2 297.6 260.6 300.3 262.1 C303.1 263.6 307.1 265.6 310.0 267.0 C312.9 268.4 315.9 269.2 318.0 270.5 C320.1 271.8 322.1 274.2 322.9 275.0" fill="none" stroke="#000" stroke-width="1.3" />
<path d="M461.5 185.0 C461.8 186.9 461.7 193.5 463.1 196.2 C464.5 198.9 467.1 199.5 470.0 201.0 C472.9 202.5 476.0 204.1 480.2 205.3 C484.4 206.5 490.0 207.6 495.0 208.3 C500.0 209.0 505.1 209.5 510.3 209.5 C515.5 209.5 521.0 209.2 526.0 208.5 C531.0 207.8 536.2 206.6 540.4 205.3 C544.6 204.1 548.0 202.5 551.0 201.0 C554.0 199.5 556.6 198.0 558.5 196.2 C560.4 194.4 561.8 192.5 562.5 190.2 C563.2 187.9 562.5 183.5 562.5 182.2 L559.5 184.2 C558.9 184.9 557.2 187.2 556.0 188.5 C554.8 189.8 554.2 190.9 552.4 192.2 C550.6 193.4 547.7 194.8 545.0 196.0 C542.3 197.2 540.1 198.3 536.4 199.2 C532.7 200.1 527.4 201.0 523.0 201.5 C518.6 202.0 514.1 202.1 510.3 202.2 C506.5 202.3 503.4 202.5 500.0 202.3 C496.6 202.1 493.5 201.8 490.2 201.2 C486.9 200.6 483.3 199.7 480.0 198.5 C476.7 197.3 472.7 195.7 470.2 194.2 C467.7 192.7 466.3 191.0 465.0 189.5 C463.7 188.0 462.9 185.8 462.5 185.0Z" fill="#c0c0c0" stroke="#000" stroke-width="1.4" />
<line x1="466.0" y1="196.5" x2="465.6" y2="200.7" stroke="#000" stroke-width="0.9" />
<line x1="468.6" y1="197.3" x2="468.2" y2="201.5" stroke="#000" stroke-width="0.9" />
<line x1="471.2" y1="198.1" x2="470.8" y2="202.3" stroke="#000" stroke-width="0.9" />
<line x1="473.8" y1="198.8" x2="473.4" y2="203.0" stroke="#000" stroke-width="0.9" />
<line x1="476.4" y1="199.6" x2="476.0" y2="203.8" stroke="#000" stroke-width="0.9" />
<line x1="479.0" y1="200.4" x2="478.6" y2="204.6" stroke="#000" stroke-width="0.9" />
<line x1="481.6" y1="201.2" x2="481.2" y2="205.4" stroke="#000" stroke-width="0.9" />
<line x1="484.2" y1="202.0" x2="483.8" y2="206.2" stroke="#000" stroke-width="0.9" />
<line x1="486.8" y1="202.7" x2="486.4" y2="206.9" stroke="#000" stroke-width="0.9" />
<line x1="489.4" y1="203.5" x2="489.0" y2="207.7" stroke="#000" stroke-width="0.9" />
<line x1="492.0" y1="204.3" x2="491.6" y2="208.5" stroke="#000" stroke-width="0.9" />
<line x1="494.6" y1="205.1" x2="494.2" y2="209.3" stroke="#000" stroke-width="0.9" />
<line x1="497.2" y1="205.9" x2="496.8" y2="210.1" stroke="#000" stroke-width="0.9" />
<path d="M459.3 180.5 L459.3 186 L462 189 L466 186.5 L478.5 180.2 L478.5 173 L470 172.5 L462 176 Z" fill="#c0c0c0" stroke="#000" stroke-width="1.4" />
<path d="M466.0 186.5 L465.5 180.5 L478.5 173.0" fill="none" stroke="#000" stroke-width="1.1" />
<path d="M459.3 180.5 C459.8 180.2 461.0 178.5 462.0 178.5 C463.0 178.5 464.9 180.2 465.5 180.5" fill="none" stroke="#000" stroke-width="1.1" />
<ellipse cx="462.3" cy="184.5" rx="1.6" ry="2.6" fill="none" stroke="#000" stroke-width="1.1" />
<path d="M563.5 171.3 L586.6 164.8 L588 167 L587 169.3 L564.5 176.6 Z" fill="#c0c0c0" stroke="#000" stroke-width="1.3" />
<ellipse cx="558.7" cy="175.2" rx="4.8" ry="6.4" fill="#c0c0c0" stroke="#000" stroke-width="1.5" transform="rotate(-15.0 558.7 175.2)" />
<path d="M561.5 170.0 C562.0 170.4 563.9 171.2 564.5 172.5 C565.1 173.8 565.3 176.2 565.0 177.5 C564.7 178.8 562.9 180.0 562.5 180.5" fill="none" stroke="#000" stroke-width="1.2" />
<path d="M586.1 150.1 L587.5 146.2 L590.5 145 L594 147.2 L626.2 157.1 L626.2 170.2 C622 173.5 614 174 610.2 173.2 L586.5 162.5 Z" fill="#c0c0c0" stroke="#000" stroke-width="1.4" />
<path d="M590.0 149.5 C591.7 150.2 596.3 152.0 600.0 153.5 C603.7 155.0 609.0 157.5 612.0 158.5 C615.0 159.5 615.8 159.4 618.0 159.3 C620.2 159.2 624.2 158.2 625.5 158.0" fill="none" stroke="#000" stroke-width="1.1" />
<ellipse cx="600.1" cy="162.3" rx="2.4" ry="2.8" fill="none" stroke="#000" stroke-width="1.2" />
<rect x="619.8" y="210.5" width="13.4" height="19.5" rx="1.5" fill="#c0c0c0" stroke="#000" stroke-width="1.4"/>
<line x1="622.5" y1="213.5" x2="622.5" y2="226.5" stroke="#000" stroke-width="1.0" />
<line x1="625.2" y1="213.5" x2="625.2" y2="226.5" stroke="#000" stroke-width="1.0" />
<line x1="627.8" y1="213.5" x2="627.8" y2="226.5" stroke="#000" stroke-width="1.0" />
<line x1="630.5" y1="213.5" x2="630.5" y2="226.5" stroke="#000" stroke-width="1.0" />
<path d="M617.5 233.0 L621.0 230.5 L632.0 230.5 L635.5 233.0 L635.5 241.0 L632.0 243.7 L621.0 243.7 L617.5 241.0Z" fill="#c0c0c0" stroke="#000" stroke-width="1.5" />
<path d="M617.5 233.0 L622.0 235.0 L631.0 235.0 L635.5 233.0" fill="none" stroke="#000" stroke-width="1.1" />
<line x1="622.0" y1="235.0" x2="622.0" y2="243.5" stroke="#000" stroke-width="1.1" />
<line x1="631.0" y1="235.0" x2="631.0" y2="243.5" stroke="#000" stroke-width="1.1" />
<rect x="646.3" y="221.0" width="13.4" height="19.5" rx="1.5" fill="#c0c0c0" stroke="#000" stroke-width="1.4"/>
<line x1="649.0" y1="224.0" x2="649.0" y2="237.0" stroke="#000" stroke-width="1.0" />
<line x1="651.7" y1="224.0" x2="651.7" y2="237.0" stroke="#000" stroke-width="1.0" />
<line x1="654.3" y1="224.0" x2="654.3" y2="237.0" stroke="#000" stroke-width="1.0" />
<line x1="657.0" y1="224.0" x2="657.0" y2="237.0" stroke="#000" stroke-width="1.0" />
<path d="M644.0 243.5 L647.5 241.0 L658.5 241.0 L662.0 243.5 L662.0 251.5 L658.5 254.2 L647.5 254.2 L644.0 251.5Z" fill="#c0c0c0" stroke="#000" stroke-width="1.5" />
<path d="M644.0 243.5 L648.5 245.5 L657.5 245.5 L662.0 243.5" fill="none" stroke="#000" stroke-width="1.1" />
<line x1="648.5" y1="245.5" x2="648.5" y2="254.0" stroke="#000" stroke-width="1.1" />
<line x1="657.5" y1="245.5" x2="657.5" y2="254.0" stroke="#000" stroke-width="1.1" />
<path d="M624.1 245.2 L624.1 263.2 L635.2 269.2 L635.2 282.0" fill="none" stroke="#000" stroke-width="1.2" stroke-dasharray="8 3"/>
<path d="M647.0 254.5 C645.8 255.4 641.8 257.8 640.0 260.0 C638.2 262.2 636.7 266.7 636.0 268.0" fill="none" stroke="#000" stroke-width="1.1" />
<path d="M638.2 269.2 L650.2 275.3 L650.2 268.0" fill="none" stroke="#000" stroke-width="1.1" />
<path d="M652 260.2 L685.5 245.3 L689 248.5 L654.5 264.2 Z" fill="#c0c0c0" stroke="#000" stroke-width="1.3" />
<ellipse cx="650.2" cy="262.7" rx="6.8" ry="4.3" fill="#c0c0c0" stroke="#000" stroke-width="1.4" transform="rotate(-12.0 650.2 262.7)" />
<ellipse cx="650.2" cy="262.7" rx="3.3" ry="1.7" fill="none" stroke="#000" stroke-width="1.2" transform="rotate(-12.0 650.2 262.7)" />
<path d="M684.3 247.8 L684.3 262 C688 267.5 703 267.5 706.4 262 L706.4 247.8" fill="#c0c0c0" stroke="#000" stroke-width="1.4" />
<ellipse cx="695.4" cy="247.6" rx="11.0" ry="4.2" fill="#c0c0c0" stroke="#000" stroke-width="1.4" />
<path d="M684.5 251.5 C685.4 252.1 687.4 254.2 690.0 254.8 C692.6 255.4 697.3 255.4 700.0 254.8 C702.7 254.2 705.2 252.1 706.2 251.5" fill="none" stroke="#000" stroke-width="1.1" />
<path d="M628.3 281 L628.3 290 L624.5 298 L622.2 304.3 L625.5 311 L626.9 317.7 L626.9 326 L633.6 330.5 L641 326 L641.7 317.7 L643.5 311 L646.4 304.3 L644.2 297 L641.7 289 L641.7 281 C639 278.3 631 278.3 628.3 281 Z" fill="#c0c0c0" stroke="#000" stroke-width="1.4" />
<path d="M628.3 281.5 C628.9 281.9 630.4 283.4 632.0 283.8 C633.6 284.2 636.4 284.2 638.0 283.8 C639.6 283.4 641.1 281.9 641.7 281.5" fill="none" stroke="#000" stroke-width="1.1" />
<path d="M631.0 283.5 L631.0 289.5 L639.0 289.5 L639.0 283.5" fill="none" stroke="#000" stroke-width="1.1" />
<path d="M628.3 290.0 C628.9 290.4 630.4 292.1 632.0 292.5 C633.6 292.9 636.4 293.0 638.0 292.5 C639.6 292.0 641.1 290.0 641.7 289.5" fill="none" stroke="#000" stroke-width="1.1" />
<path d="M625.5 297.5 C626.4 298.0 628.8 300.0 631.0 300.5 C633.2 301.0 636.8 301.1 639.0 300.5 C641.2 299.9 643.2 297.6 644.0 297.0" fill="none" stroke="#000" stroke-width="1.1" />
<path d="M622.5 304.5 C623.6 305.1 626.1 307.4 629.0 308.0 C631.9 308.6 637.1 308.6 640.0 308.0 C642.9 307.4 645.2 305.1 646.2 304.5" fill="none" stroke="#000" stroke-width="1.2" />
<path d="M625.5 311.0 C626.4 311.5 628.9 313.5 631.0 314.0 C633.1 314.5 635.9 314.5 638.0 314.0 C640.1 313.5 642.6 311.5 643.5 311.0" fill="none" stroke="#000" stroke-width="1.1" />
<path d="M626.9 318.0 C627.6 318.4 629.3 320.1 631.0 320.5 C632.7 320.9 635.2 320.9 637.0 320.5 C638.8 320.1 640.9 318.4 641.7 318.0" fill="none" stroke="#000" stroke-width="1.1" />
<line x1="635.2" y1="276.0" x2="635.2" y2="286.0" stroke="#000" stroke-width="1.2" />
<path d="M681.2 116 C681.5 113.5 684.5 113 686 114.5 L688.5 117 L693 116.3 L698 117.5 L703 121 L709.5 122.3 L715 125 L722.3 126.8 L722.3 138.5 C720 141.2 714 142 710.3 141.3 L692 135.5 L684.2 132.3 L681.2 128.3 Z" fill="#c0c0c0" stroke="#000" stroke-width="1.4" />
<path d="M686.0 118.5 C687.5 119.0 692.2 120.4 695.0 121.5 C697.8 122.6 700.2 124.0 703.0 125.0 C705.8 126.0 709.0 126.8 712.0 127.3 C715.0 127.8 719.5 128.1 721.0 128.3" fill="none" stroke="#000" stroke-width="1.0" stroke-dasharray="5 2"/>
<path d="M692.5 127.5 C693.0 127.6 694.8 127.3 695.3 128.0 C695.8 128.7 695.7 130.9 695.8 131.5" fill="none" stroke="#000" stroke-width="1.1" />
<line x1="685.5" y1="115.5" x2="685.5" y2="122.5" stroke="#000" stroke-width="1.1" />
<g transform="translate(0.0 0.0)">
<path d="M643 129.5 C643.5 127.3 646 126.8 648 126.8 L658.5 127.5 L679.5 137.2 C681.3 139 681 150 680.2 152 C679 154 676 154 674.6 152.3 L674.3 147.5 L665 146.3 L655.5 142.5 L655.5 139.3 L646.5 140.8 C644 140 643 137 643 129.5 Z" fill="#c0c0c0" stroke="#000" stroke-width="1.4" />
<path d="M648.0 129.0 L648.5 139.8" fill="none" stroke="#000" stroke-width="1.1" />
<path d="M655.5 129.5 L655.5 139.3" fill="none" stroke="#000" stroke-width="1.1" />
<path d="M648.3 132.0 L655.3 132.3" fill="none" stroke="#000" stroke-width="1.0" stroke-dasharray="3 1.5"/>
<path d="M659.0 131.5 L659.5 143.5" fill="none" stroke="#000" stroke-width="1.1" />
<path d="M668.0 134.5 L668.3 146.5" fill="none" stroke="#000" stroke-width="1.1" />
<path d="M674.6 138.0 L674.4 148.0" fill="none" stroke="#000" stroke-width="1.1" />
<path d="M660.0 137.0 L667.0 139.0" fill="none" stroke="#000" stroke-width="1.0" stroke-dasharray="3 1.5"/>
<path d="M662.5 140.5 C662.8 140.8 664.0 141.3 664.3 142.0 C664.5 142.7 664.0 144.1 664.0 144.5" fill="none" stroke="#000" stroke-width="1.0" />
</g>
<g transform="translate(74.8 -26.6)">
<path d="M643 129.5 C643.5 127.3 646 126.8 648 126.8 L658.5 127.5 L679.5 137.2 C681.3 139 681 150 680.2 152 C679 154 676 154 674.6 152.3 L674.3 147.5 L665 146.3 L655.5 142.5 L655.5 139.3 L646.5 140.8 C644 140 643 137 643 129.5 Z" fill="#c0c0c0" stroke="#000" stroke-width="1.4" />
<path d="M648.0 129.0 L648.5 139.8" fill="none" stroke="#000" stroke-width="1.1" />
<path d="M655.5 129.5 L655.5 139.3" fill="none" stroke="#000" stroke-width="1.1" />
<path d="M648.3 132.0 L655.3 132.3" fill="none" stroke="#000" stroke-width="1.0" stroke-dasharray="3 1.5"/>
<path d="M659.0 131.5 L659.5 143.5" fill="none" stroke="#000" stroke-width="1.1" />
<path d="M668.0 134.5 L668.3 146.5" fill="none" stroke="#000" stroke-width="1.1" />
<path d="M674.6 138.0 L674.4 148.0" fill="none" stroke="#000" stroke-width="1.1" />
<path d="M660.0 137.0 L667.0 139.0" fill="none" stroke="#000" stroke-width="1.0" stroke-dasharray="3 1.5"/>
<path d="M662.5 140.5 C662.8 140.8 664.0 141.3 664.3 142.0 C664.5 142.7 664.0 144.1 664.0 144.5" fill="none" stroke="#000" stroke-width="1.0" />
</g>
<ellipse cx="776.0" cy="101.2" rx="5.8" ry="6.2" fill="#c0c0c0" stroke="#000" stroke-width="1.5" />
<ellipse cx="775.3" cy="101.5" rx="3.2" ry="3.8" fill="none" stroke="#000" stroke-width="1.2" />
<path d="M772.0 98.0 L775.0 99.3 L779.5 97.5" fill="none" stroke="#000" stroke-width="1.0" />
<line x1="785.5" y1="98.3" x2="786.3" y2="97.6" stroke="#000" stroke-width="1.0" />
<path d="M261.1 276.2 C259.2 276.8 253.5 278.5 250.0 280.0 C246.5 281.5 243.0 283.0 240.1 285.2 C237.2 287.4 234.4 290.2 232.5 293.0 C230.6 295.8 229.2 299.2 228.5 302.2 C227.8 305.2 227.7 308.2 228.0 311.0 C228.3 313.8 229.3 316.6 230.5 318.8 C231.7 321.0 233.4 322.8 235.0 324.0 C236.6 325.2 237.9 326.1 240.1 326.3 C242.3 326.5 244.2 326.3 248.0 325.0 C251.8 323.7 260.6 319.4 263.1 318.3" fill="none" stroke="#000" stroke-width="3.8"/>
<path d="M261.1 276.2 C259.2 276.8 253.5 278.5 250.0 280.0 C246.5 281.5 243.0 283.0 240.1 285.2 C237.2 287.4 234.4 290.2 232.5 293.0 C230.6 295.8 229.2 299.2 228.5 302.2 C227.8 305.2 227.7 308.2 228.0 311.0 C228.3 313.8 229.3 316.6 230.5 318.8 C231.7 321.0 233.4 322.8 235.0 324.0 C236.6 325.2 237.9 326.1 240.1 326.3 C242.3 326.5 244.2 326.3 248.0 325.0 C251.8 323.7 260.6 319.4 263.1 318.3" fill="none" stroke="#c0c0c0" stroke-width="1.3"/>
<line x1="266.0" y1="316.5" x2="279.5" y2="310.5" stroke="#000" stroke-width="1.1" />
<line x1="282.0" y1="309.5" x2="286.0" y2="307.8" stroke="#000" stroke-width="1.0" />
<path d="M458 436.4 L516.3 466 L540 400 L520 371 L488 346 L440 356 L419 396 L428 424 Z" fill="#c0c0c0" stroke="none" stroke-width="1.6" />
<path d="M435.6 349.4 C430 349.5 426 350 422.2 350.6 C416 352 412.2 354.4 410.6 359.4 L410.6 381.7 L418.9 387.2 L424 371 L436 356.5 Z" fill="#c0c0c0" stroke="#000" stroke-width="1.5" />
<path d="M410.9 361.7 L425.6 368.3" fill="none" stroke="#000" stroke-width="1.3" />
<path d="M410.9 369.5 L423.9 374.4" fill="none" stroke="#000" stroke-width="1.3" />
<path d="M411.5 376.5 L421.1 379.4" fill="none" stroke="#000" stroke-width="1.3" />
<path d="M432.2 356.1 C431.6 356.1 429.6 355.6 428.5 355.8 C427.4 356.0 426.4 356.4 425.6 357.2 C424.8 358.0 423.9 359.7 423.9 360.6 C423.9 361.5 424.8 362.1 425.6 362.5 C426.4 362.9 428.3 362.8 428.9 362.8" fill="none" stroke="#000" stroke-width="1.4" />
<line x1="432.2" y1="346.1" x2="432.2" y2="358.3" stroke="#000" stroke-width="1.2" />
<path d="M471.1 347.2 C469.2 347.1 463.1 346.6 460.0 346.7 C456.9 346.8 454.7 347.4 452.5 348.0 C450.3 348.6 448.6 349.6 446.7 350.6 C444.8 351.6 442.7 352.9 441.0 354.0 C439.3 355.1 438.2 355.7 436.7 357.2 C435.2 358.7 433.5 360.8 432.0 363.0 C430.5 365.2 429.1 367.9 427.8 370.6 C426.5 373.3 425.1 376.2 424.0 379.0 C422.9 381.8 421.9 384.3 421.1 387.2 C420.3 390.1 419.6 393.2 419.3 396.2 C419.0 399.2 419.0 402.6 419.3 405.0 C419.6 407.4 420.3 408.1 421.1 410.3 C421.9 412.5 422.8 415.7 424.0 418.0 C425.2 420.3 426.5 422.5 428.1 424.3 C429.7 426.1 431.5 427.7 433.5 429.0 C435.5 430.3 439.0 431.8 440.1 432.3" fill="none" stroke="#000" stroke-width="1.6" />
<path d="M480.0 360.0 C478.8 360.0 475.2 359.6 473.0 359.8 C470.8 360.0 468.8 360.4 466.7 361.1 C464.6 361.8 462.4 363.0 460.5 364.0 C458.6 365.0 457.4 365.7 455.6 367.2 C453.8 368.7 451.4 371.0 449.5 373.0 C447.6 375.0 445.9 377.2 444.4 379.4 C442.9 381.6 441.6 383.8 440.5 386.0 C439.4 388.2 438.6 390.5 437.8 392.8 C437.0 395.1 436.1 397.6 435.6 400.0 C435.2 402.4 435.1 404.7 435.1 407.0 C435.1 409.3 435.3 411.8 435.6 414.0 C435.9 416.2 436.4 418.3 437.1 420.3 C437.8 422.3 438.8 424.3 440.0 426.0 C441.2 427.7 442.5 429.0 444.2 430.3 C445.9 431.6 447.7 433.0 450.0 434.0 C452.3 435.0 456.8 436.0 458.2 436.4" fill="none" stroke="#000" stroke-width="1.5" />
<path d="M457.8 362.8 C456.9 363.6 454.0 366.0 452.5 367.5 C451.0 369.0 450.2 369.9 448.9 371.7 C447.6 373.4 445.8 375.8 444.5 378.0 C443.2 380.2 442.1 382.3 441.1 385.0 C440.2 387.7 439.4 390.7 438.8 394.0 C438.2 397.3 437.9 401.8 437.8 405.0 C437.7 408.2 437.8 410.5 438.2 413.0 C438.6 415.5 439.7 418.8 440.0 420.0" fill="none" stroke="#000" stroke-width="1.1" />
<path d="M488.5 358.3 C486.7 358.8 480.9 360.2 477.8 361.1 C474.7 362.0 472.6 362.5 470.0 363.5 C467.4 364.5 464.6 365.6 462.2 367.2 C459.8 368.8 457.5 371.0 455.5 373.0 C453.5 375.0 451.7 376.9 450.0 379.4 C448.3 381.9 446.6 385.2 445.5 388.0 C444.4 390.8 443.9 393.2 443.1 396.2 C442.4 399.2 441.4 403.0 441.0 406.0 C440.6 409.0 440.2 411.6 440.5 414.3 C440.8 417.0 441.6 419.7 442.5 422.0 C443.4 424.3 445.4 427.0 446.0 428.0" fill="none" stroke="#000" stroke-width="1.3" />
<ellipse cx="448.9" cy="356.7" rx="7.0" ry="4.3" fill="#c0c0c0" stroke="#000" stroke-width="1.5" transform="rotate(8.0 448.9 356.7)" />
<path d="M443 358.5 C445 361.5 453 362 455.5 358.5 C452 360 446 360 443 358.5 Z" fill="#000" stroke="#000" stroke-width="0.8" />
<line x1="447.0" y1="353.5" x2="447.5" y2="359.5" stroke="#000" stroke-width="1.0" />
<line x1="451.0" y1="353.3" x2="451.5" y2="359.8" stroke="#000" stroke-width="1.0" />
<ellipse cx="464.4" cy="351.7" rx="7.2" ry="3.8" fill="#c0c0c0" stroke="#000" stroke-width="1.4" transform="rotate(8.0 464.4 351.7)" />
<line x1="462.0" y1="349.0" x2="462.5" y2="354.5" stroke="#000" stroke-width="1.0" />
<line x1="466.5" y1="349.0" x2="467.5" y2="354.8" stroke="#000" stroke-width="1.0" />
<ellipse cx="427.1" cy="405.3" rx="5.2" ry="7.8" fill="none" stroke="#000" stroke-width="1.5" transform="rotate(-15.0 427.1 405.3)" />
<path d="M424.5 400.0 C424.4 400.9 423.5 403.6 423.8 405.5 C424.1 407.4 426.1 410.5 426.5 411.5" fill="none" stroke="#000" stroke-width="1.1" />
<path d="M472 348.8 C476 345.5 481 344 485.1 344.4 C488 344.8 490 345.8 491.8 347.1 L540.2 371.9 L536 379 L518.7 371.2 L481.1 352.4 Z" fill="#c0c0c0" stroke="#000" stroke-width="1.4" />
<path d="M481.1 352.4 L518.7 371.2" fill="none" stroke="#000" stroke-width="1.4" />
<path d="M472.0 349.5 C473.0 349.6 476.5 349.8 478.0 350.3 C479.5 350.8 480.6 352.0 481.1 352.4" fill="none" stroke="#000" stroke-width="1.2" />
<path d="M484.5 354.0 C485.1 354.4 486.6 355.4 487.8 356.5 C489.0 357.6 490.4 358.9 491.5 360.5 C492.6 362.1 494.0 365.0 494.5 365.9" fill="none" stroke="#000" stroke-width="1.3" />
<path d="M494.5 365.9 L516.5 376.8" fill="none" stroke="#000" stroke-width="1.3" />
<path d="M520.7 369.8 L527 370.6 C530 373 530.5 384.5 527.5 388.6 L520.7 387.8 C516.8 385 516.8 373 520.7 369.8 Z" fill="#c0c0c0" stroke="#000" stroke-width="1.4" />
<path d="M527.0 370.6 C526.5 371.3 524.5 372.8 524.0 375.0 C523.5 377.2 523.4 381.7 524.0 384.0 C524.6 386.3 526.9 387.8 527.5 388.6" fill="none" stroke="#000" stroke-width="1.2" />
<line x1="458.2" y1="436.4" x2="516.3" y2="465.5" stroke="#000" stroke-width="1.5" />
<path d="M430 425.5 L430 431 L448.1 443.3 L462.1 436.8 L462.1 436 L448.1 436.1 Z" fill="#c0c0c0" stroke="#000" stroke-width="1.4" />
<path d="M448.1 436.1 L448.1 443.1" fill="none" stroke="#000" stroke-width="1.3" />
<path d="M538.2 374.1 C542 372 546 372.3 548.2 373.1 C554 374.5 559 378 560.2 380.1 C562.5 384 563 388 562.2 391 L585 420 L586 452 L566 478 L530 478 L516.3 466.2 C512 458 511 450 511.3 450.1 C511.5 440 514.3 430.1 518.1 420.2 C521 412 525 407 527.1 402.2 C529 396 529.5 390 530.1 386.1 C531.5 380 534 376.5 538.2 374.1 Z" fill="#c0c0c0" stroke="none" stroke-width="1.6" />
<path d="M562.2 389.5 C561.9 387.9 561.4 382.4 560.2 380.1 C559.0 377.9 557.0 377.2 555.0 376.0 C553.0 374.8 550.2 373.7 548.2 373.1 C546.2 372.5 544.7 372.3 543.0 372.5 C541.3 372.7 539.9 373.0 538.2 374.1 C536.5 375.2 534.4 377.0 533.0 379.0 C531.6 381.0 530.8 383.6 530.1 386.1 C529.4 388.6 529.5 391.3 529.0 394.0 C528.5 396.7 528.1 399.4 527.1 402.2 C526.1 405.0 524.5 408.0 523.0 411.0 C521.5 414.0 519.6 417.0 518.1 420.2 C516.6 423.4 515.3 426.8 514.3 430.1 C513.3 433.5 512.5 437.0 512.0 440.3 C511.5 443.6 511.1 447.0 511.3 450.1 C511.5 453.2 512.2 456.3 513.0 459.0 C513.8 461.7 515.1 464.3 516.3 466.2 C517.5 468.1 519.5 469.7 520.1 470.4" fill="none" stroke="#000" stroke-width="1.6" />
<path d="M548.5 386.0 C548.0 386.7 546.0 388.4 545.5 390.0 C545.0 391.6 545.1 394.1 545.5 395.5 C545.9 396.9 548.1 397.2 548.0 398.5 C547.9 399.8 546.5 401.6 545.0 403.0 C543.5 404.4 541.2 404.8 539.0 407.0 C536.8 409.2 533.7 412.5 531.5 416.0 C529.3 419.5 527.4 424.0 526.0 428.0 C524.6 432.0 523.8 436.9 523.3 440.0 C522.8 443.1 523.1 445.2 523.1 446.3" fill="none" stroke="#000" stroke-width="1.3" />
<ellipse cx="556.0" cy="445.5" rx="24.5" ry="38.5" fill="#c0c0c0" stroke="#000" stroke-width="1.5" transform="rotate(33.0 556.0 445.5)" />
<path d="M527.0 462.0 C526.6 460.3 524.8 455.7 524.5 452.0 C524.2 448.3 524.7 444.0 525.5 440.0 C526.3 436.0 527.8 431.8 529.5 428.0 C531.2 424.2 533.4 420.6 536.0 417.5 C538.6 414.4 543.5 410.8 545.0 409.5" fill="none" stroke="#000" stroke-width="1.0" />
<ellipse cx="558.5" cy="444.5" rx="20.5" ry="33.0" fill="none" stroke="#000" stroke-width="1.3" transform="rotate(33.0 558.5 444.5)" />
<ellipse cx="561.0" cy="443.5" rx="16.0" ry="26.5" fill="none" stroke="#000" stroke-width="1.4" transform="rotate(33.0 561.0 443.5)" />
<ellipse cx="563.0" cy="443.0" rx="12.5" ry="21.5" fill="none" stroke="#000" stroke-width="1.2" transform="rotate(33.0 563.0 443.0)" />
<path d="M552.2 386.1 L608.4 413.2 L602.4 424.5 L550.2 398.2 C546.5 396 547 387.5 552.2 386.1 Z" fill="#c0c0c0" stroke="#000" stroke-width="1.4" />
<path d="M556.2 430.3 L594.4 442.8 L580 470 L552.2 458.4 C547 455 547 436 556.2 430.3 Z" fill="#c0c0c0" stroke="#000" stroke-width="1.4" />
<path d="M556.2 430.3 C555.3 431.2 552.3 433.2 551.0 435.5 C549.7 437.8 548.5 441.4 548.3 444.3 C548.0 447.2 548.9 450.6 549.5 453.0 C550.1 455.4 551.8 457.5 552.2 458.4" fill="none" stroke="#000" stroke-width="1.4" />
<path d="M559.4 478.9 L576.1 489.7" fill="none" stroke="#000" stroke-width="1.3" />
<path d="M525.1 472.2 L537.9 478.9 L545.3 480.3 C549 481 551 487 549.5 492 C548.5 494.5 546 495.3 541.2 494.4 L526.5 484.3 Z" fill="#c0c0c0" stroke="#000" stroke-width="1.4" />
<path d="M537.9 478.9 L539.2 491.0" fill="none" stroke="#000" stroke-width="1.2" />
<path d="M516.6 468.9 L516.8 476.0 L520.5 478.3 L520.5 471.0" fill="none" stroke="#000" stroke-width="1.3" />
<path d="M520.5 478.3 L525.3 480.0" fill="none" stroke="#000" stroke-width="1.2" />
<path d="M549.3 479.6 L596.3 507.1 L596.3 516.5 L547 490.7 C544 488 544.5 481 549.3 479.6 Z" fill="#c0c0c0" stroke="#000" stroke-width="1.4" />
<path d="M602.4 424.2 L618.4 408.2 L634.5 414.2 L639.5 438.3 L702.2 472.1 L730 472.5 L753.3 484.1 L753.3 512 L735 560 L696 566.4 L672 554.4 L650 538.3 L610 522.4 L596.6 512.3 L578.5 490 L578.5 470 Z" fill="#c0c0c0" stroke="none" stroke-width="1.6" />
<path d="M639.8 436.5 C639.8 434.5 639.9 427.3 639.5 424.3 C639.1 421.3 638.3 420.2 637.5 418.5 C636.7 416.8 636.2 415.6 634.5 414.2 C632.8 412.8 629.7 411.0 627.0 410.0 C624.3 409.0 620.8 408.3 618.4 408.2 C616.0 408.1 614.2 408.8 612.5 409.5 C610.8 410.2 609.7 410.9 608.4 412.2 C607.1 413.5 605.5 415.5 604.5 417.5 C603.5 419.5 603.1 421.6 602.4 424.2 C601.7 426.8 601.3 429.9 600.5 433.0 C599.7 436.1 599.2 439.7 597.6 442.7 C596.0 445.7 593.2 448.3 591.0 451.0 C588.8 453.7 586.0 456.2 584.2 458.8 C582.4 461.4 581.1 463.8 580.0 466.5 C578.9 469.2 578.1 471.8 577.5 474.9 C576.9 478.0 576.4 481.9 576.5 485.0 C576.6 488.1 577.5 491.1 578.2 493.7 C579.0 496.3 579.8 498.5 581.0 500.5 C582.2 502.5 583.9 504.2 585.5 505.8 C587.1 507.4 588.5 508.7 590.5 509.8 C592.5 510.9 596.3 511.8 597.5 512.2" fill="none" stroke="#000" stroke-width="1.6" />
<path d="M620.5 418.0 C620.1 419.1 618.7 421.3 618.4 424.3 C618.1 427.3 618.6 432.5 618.5 436.0 C618.4 439.5 619.2 442.4 617.8 445.4 C616.4 448.4 612.7 451.1 610.0 454.0 C607.3 456.9 603.8 460.0 601.6 462.8 C599.4 465.6 598.2 468.1 597.0 471.0 C595.8 473.9 594.9 477.3 594.3 480.3 C593.7 483.3 593.3 486.3 593.2 489.0 C593.1 491.7 593.3 493.9 593.6 496.4 C593.9 498.9 594.3 501.6 595.0 504.0 C595.7 506.4 597.2 509.9 597.6 511.1" fill="none" stroke="#000" stroke-width="1.4" />
<path d="M617.5 448.0 C616.1 449.8 611.4 455.2 609.0 459.0 C606.6 462.8 604.4 467.0 603.0 471.0 C601.6 475.0 601.0 479.0 600.5 483.0 C600.0 487.0 600.1 491.5 600.3 495.0 C600.5 498.5 600.9 501.3 601.5 504.0 C602.1 506.7 603.6 509.8 604.0 511.0" fill="none" stroke="#000" stroke-width="1.0" />
<path d="M597.5 512.2 L598.3 523.2 L605.4 529.4 L614.7 534.1 L622.6 531.8 L629.6 527.9 L626 525.5 L599.1 511.5 Z" fill="#c0c0c0" stroke="#000" stroke-width="1.4" />
<path d="M610.0 518.0 L610.0 531.5" fill="none" stroke="#000" stroke-width="1.2" />
<path d="M616.0 521.5 C615.8 522.2 614.4 524.1 614.5 525.5 C614.6 526.9 616.2 529.2 616.5 530.0" fill="none" stroke="#000" stroke-width="1.1" />
<path d="M622.0 524.5 C621.8 525.1 620.4 526.8 620.5 528.0 C620.6 529.2 622.2 530.9 622.5 531.5" fill="none" stroke="#000" stroke-width="1.1" />
<ellipse cx="632.2" cy="431.1" rx="6.3" ry="9.3" fill="#c0c0c0" stroke="#000" stroke-width="1.4" transform="rotate(-18.0 632.2 431.1)" />
<ellipse cx="632.4" cy="431.3" rx="3.4" ry="4.6" fill="none" stroke="#000" stroke-width="1.3" transform="rotate(-18.0 632.4 431.3)" />
<path d="M631.0 429.5 C631.0 430.0 630.5 431.7 630.8 432.3 C631.1 432.9 632.6 433.1 633.0 433.2" fill="none" stroke="#000" stroke-width="1.0" />
<path d="M622.5 421.5 C622.8 420.7 623.1 417.8 624.0 416.5 C624.9 415.2 627.3 414.0 628.0 413.5" fill="none" stroke="#000" stroke-width="1.0" />
<line x1="638.8" y1="440.4" x2="702.2" y2="472.1" stroke="#000" stroke-width="1.5" />
<line x1="599.1" y1="511.5" x2="663.5" y2="546.0" stroke="#000" stroke-width="1.5" />
<path d="M702.2 472.1 C701.2 472.8 698.9 474.0 696.2 476.1 C693.5 478.2 689.4 481.6 686.0 485.0 C682.6 488.4 678.8 492.4 676.1 496.2 C673.4 500.0 671.7 504.0 670.0 508.0 C668.3 512.0 667.1 516.4 666.1 520.2 C665.1 524.0 664.5 527.6 664.3 531.0 C664.1 534.4 664.6 537.5 665.1 540.3 C665.6 543.1 666.3 545.6 667.5 548.0 C668.7 550.4 670.0 552.3 672.1 554.4 C674.2 556.5 677.0 558.7 680.0 560.5 C683.0 562.3 688.4 564.6 690.1 565.4" fill="none" stroke="#000" stroke-width="1.6" />
<path d="M752.3 510.2 C752.0 508.9 751.5 504.8 750.8 502.5 C750.1 500.2 749.5 498.3 748.3 496.2 C747.1 494.1 745.5 491.7 743.8 490.0 C742.1 488.3 740.6 487.1 738.3 486.1 C736.0 485.1 732.7 484.4 730.0 484.2 C727.3 484.0 725.1 483.9 722.2 485.1 C719.3 486.3 715.5 489.0 712.5 491.5 C709.5 494.0 706.9 497.1 704.2 500.2 C701.5 503.3 698.9 506.7 696.5 510.0 C694.1 513.3 691.9 516.7 690.1 520.2 C688.4 523.7 687.0 527.6 686.0 531.0 C685.0 534.4 684.3 537.1 684.1 540.3 C683.9 543.5 684.1 547.0 684.8 550.0 C685.5 553.0 686.9 556.2 688.1 558.4 C689.3 560.6 690.6 561.7 692.0 563.0 C693.4 564.3 695.5 565.8 696.2 566.4" fill="none" stroke="#000" stroke-width="1.5" />
<path d="M730.3 466.5 L730.3 473.1 L753.3 484.1 L753.3 512.0" fill="none" stroke="#000" stroke-width="1.4" />
<path d="M730.3 473.1 L730.3 478.0 L744.3 486.1 L746.5 493.0" fill="none" stroke="#000" stroke-width="1.2" />
<path d="M722.0 474.5 L730.3 473.1" fill="none" stroke="#000" stroke-width="1.2" />
<ellipse cx="703.8" cy="484.1" rx="7.5" ry="4.3" fill="#c0c0c0" stroke="#000" stroke-width="1.4" transform="rotate(10.0 703.8 484.1)" />
<path d="M698.5 486.0 C699.2 486.3 701.2 487.9 703.0 487.8 C704.8 487.7 708.4 485.9 709.5 485.5" fill="none" stroke="#000" stroke-width="1.0" />
<ellipse cx="719.2" cy="480.1" rx="7.3" ry="3.9" fill="#c0c0c0" stroke="#000" stroke-width="1.4" transform="rotate(8.0 719.2 480.1)" />
<path d="M714.0 481.5 C714.8 481.8 717.2 483.6 719.0 483.5 C720.8 483.4 724.0 481.6 725.0 481.2" fill="none" stroke="#000" stroke-width="1.0" />
<path d="M711.0 490.5 L720.0 487.0 L727.0 486.3" fill="none" stroke="#000" stroke-width="1.1" />
<ellipse cx="675.1" cy="541.3" rx="5.3" ry="8.0" fill="#c0c0c0" stroke="#000" stroke-width="1.5" transform="rotate(-15.0 675.1 541.3)" />
<path d="M672.5 536.0 C672.4 536.9 671.6 539.6 672.0 541.5 C672.4 543.4 674.3 546.5 674.8 547.5" fill="none" stroke="#000" stroke-width="1.1" />
<path d="M716.8 540.0 L716.8 559.0" fill="none" stroke="#000" stroke-width="1.2" />
<path d="M722.5 548.0 L722.5 556.5" fill="none" stroke="#000" stroke-width="1.1" />
<path d="M708.7 534.9 L708.7 542.5 L723.4 551.6 C726 553.5 729 554.8 732.5 555.7 C736 556.8 739 557.2 742.6 557.2 C747 557 751 556.3 754.7 554.7 C758.5 553 761 551 762.3 548.6 L762.3 541.5 L750 536 L723.4 530 Z" fill="#c0c0c0" stroke="#000" stroke-width="1.6" />
<path d="M708.7 534.9 C711.2 536.3 719.4 541.4 723.4 543.5 C727.4 545.6 729.3 546.8 732.5 547.6 C735.7 548.5 738.9 548.8 742.6 548.6 C746.3 548.4 751.4 547.8 754.7 546.6 C758.0 545.4 761.0 542.4 762.3 541.5" fill="none" stroke="#000" stroke-width="1.5" />
<path d="M708.7 521.8 L734.5 508.7 L750.7 517.8 C756 520 760 523 760.8 524.3 C762.3 526 762.8 528 762.8 529.4 L762.3 535.4 C761 538 758.5 539.5 754.7 540.5 C751 542 747 542.8 742.6 543 C739 543 736 542.8 732.5 542 C729 541 726 539.8 723.4 538 L708.7 528.9 Z" fill="#c0c0c0" stroke="#000" stroke-width="1.6" />
<path d="M708.7 521.8 C711.2 523.3 719.8 528.7 723.4 530.9 C727.0 533.1 727.5 534.0 730.4 534.9 C733.3 535.8 736.9 536.6 740.6 536.5 C744.3 536.4 749.3 535.4 752.7 534.4 C756.1 533.4 759.1 531.2 760.8 530.4 C762.5 529.6 762.5 529.6 762.8 529.4" fill="none" stroke="#000" stroke-width="1.5" />
<path d="M716.8 529.9 L743.6 516.7" fill="none" stroke="#000" stroke-width="1.2" />
<path d="M716.8 527.0 L716.8 540.0" fill="none" stroke="#000" stroke-width="1.2" />
<ellipse cx="743.1" cy="527.4" rx="8.6" ry="3.9" fill="#c0c0c0" stroke="#000" stroke-width="1.5" />
<line x1="743.6" y1="516.7" x2="743.8" y2="527.5" stroke="#000" stroke-width="1.1" />
<ellipse cx="701.7" cy="576.0" rx="11.8" ry="13.3" fill="#c0c0c0" stroke="#000" stroke-width="1.6" transform="rotate(-28.0 701.7 576.0)" />
<ellipse cx="702.2" cy="576.5" rx="7.8" ry="9.3" fill="none" stroke="#000" stroke-width="1.4" transform="rotate(-28.0 702.2 576.5)" />
<path d="M688.3 584.7 L715.0 567.0 L722.5 556.5" fill="none" stroke="#000" stroke-width="1.1" stroke-dasharray="12 3 2 3"/>
<path d="M306.0 287.0 C306.6 288.5 307.2 292.1 309.5 296.0 C311.8 299.9 317.1 306.3 320.0 310.5 C322.9 314.7 324.0 315.8 327.0 321.0 C330.0 326.2 335.3 333.8 338.0 342.0 C340.7 350.2 342.2 360.3 343.0 370.0 C343.8 379.7 342.9 392.3 342.7 400.0 C342.5 407.7 341.5 411.0 341.7 416.0 C341.9 421.0 342.6 425.9 344.0 430.0 C345.4 434.1 347.7 437.8 350.0 440.5 C352.3 443.2 356.7 445.5 358.0 446.5" fill="none" stroke="#000" stroke-width="12.5" stroke-linecap="butt"/>
<path d="M306.0 287.0 C306.6 288.5 307.2 292.1 309.5 296.0 C311.8 299.9 317.1 306.3 320.0 310.5 C322.9 314.7 324.0 315.8 327.0 321.0 C330.0 326.2 335.3 333.8 338.0 342.0 C340.7 350.2 342.2 360.3 343.0 370.0 C343.8 379.7 342.9 392.3 342.7 400.0 C342.5 407.7 341.5 411.0 341.7 416.0 C341.9 421.0 342.6 425.9 344.0 430.0 C345.4 434.1 347.7 437.8 350.0 440.5 C352.3 443.2 356.7 445.5 358.0 446.5" fill="none" stroke="url(#stip)" stroke-width="8.5" stroke-linecap="butt" transform="translate(-0.35 -0.40)"/>
<path d="M303.0 283.0 C302.6 284.5 301.1 289.0 300.8 292.0 C300.6 295.0 300.8 297.9 301.5 301.0 C302.2 304.1 303.6 307.3 305.0 310.5 C306.4 313.7 308.2 313.4 310.0 320.0 C311.8 326.6 314.4 340.0 315.6 350.0 C316.8 360.0 316.7 370.8 317.0 380.0 C317.3 389.2 317.2 398.3 317.5 405.0 C317.8 411.7 317.6 415.0 318.5 420.0 C319.4 425.0 320.6 429.7 323.0 435.0 C325.4 440.3 329.2 447.1 333.0 452.0 C336.8 456.9 341.9 460.9 346.0 464.5 C350.1 468.1 355.6 472.0 357.5 473.5" fill="none" stroke="#000" stroke-width="11.5" stroke-linecap="butt"/>
<path d="M303.0 283.0 C302.6 284.5 301.1 289.0 300.8 292.0 C300.6 295.0 300.8 297.9 301.5 301.0 C302.2 304.1 303.6 307.3 305.0 310.5 C306.4 313.7 308.2 313.4 310.0 320.0 C311.8 326.6 314.4 340.0 315.6 350.0 C316.8 360.0 316.7 370.8 317.0 380.0 C317.3 389.2 317.2 398.3 317.5 405.0 C317.8 411.7 317.6 415.0 318.5 420.0 C319.4 425.0 320.6 429.7 323.0 435.0 C325.4 440.3 329.2 447.1 333.0 452.0 C336.8 456.9 341.9 460.9 346.0 464.5 C350.1 468.1 355.6 472.0 357.5 473.5" fill="none" stroke="url(#stip)" stroke-width="7.5" stroke-linecap="butt" transform="translate(-0.35 -0.40)"/>
<path d="M306.0 284.5 C310.0 285.2 322.7 287.8 330.0 289.0 C337.3 290.2 342.5 290.9 350.0 292.0 C357.5 293.1 366.7 294.4 375.0 295.5 C383.3 296.6 390.8 297.0 400.0 298.6 C409.2 300.2 420.0 301.9 430.0 305.0 C440.0 308.1 448.3 311.7 460.0 317.0 C471.7 322.3 486.7 330.3 500.0 337.0 C513.3 343.7 528.3 351.2 540.0 357.0 C551.7 362.8 556.7 365.3 570.0 371.5 C583.3 377.7 602.3 386.3 620.0 394.0 C637.7 401.7 666.7 413.6 676.0 417.5" fill="none" stroke="#000" stroke-width="11.5" stroke-linecap="butt"/>
<path d="M306.0 284.5 C310.0 285.2 322.7 287.8 330.0 289.0 C337.3 290.2 342.5 290.9 350.0 292.0 C357.5 293.1 366.7 294.4 375.0 295.5 C383.3 296.6 390.8 297.0 400.0 298.6 C409.2 300.2 420.0 301.9 430.0 305.0 C440.0 308.1 448.3 311.7 460.0 317.0 C471.7 322.3 486.7 330.3 500.0 337.0 C513.3 343.7 528.3 351.2 540.0 357.0 C551.7 362.8 556.7 365.3 570.0 371.5 C583.3 377.7 602.3 386.3 620.0 394.0 C637.7 401.7 666.7 413.6 676.0 417.5" fill="none" stroke="url(#stip)" stroke-width="7.5" stroke-linecap="butt" transform="translate(-0.35 -0.40)"/>
<path d="M306.0 279.0 C310.0 279.4 322.7 280.8 330.0 281.5 C337.3 282.2 338.3 282.8 350.0 283.5 C361.7 284.2 385.0 285.1 400.0 285.6 C415.0 286.1 429.2 285.8 440.0 286.5 C450.8 287.2 455.8 287.4 465.0 290.0 C474.2 292.6 483.3 296.7 495.0 302.0 C506.7 307.3 520.8 315.3 535.0 322.0 C549.2 328.7 564.2 334.8 580.0 342.0 C595.8 349.2 613.7 357.8 630.0 365.5 C646.3 373.2 670.0 384.2 678.0 388.0" fill="none" stroke="#000" stroke-width="11.5" stroke-linecap="butt"/>
<path d="M306.0 279.0 C310.0 279.4 322.7 280.8 330.0 281.5 C337.3 282.2 338.3 282.8 350.0 283.5 C361.7 284.2 385.0 285.1 400.0 285.6 C415.0 286.1 429.2 285.8 440.0 286.5 C450.8 287.2 455.8 287.4 465.0 290.0 C474.2 292.6 483.3 296.7 495.0 302.0 C506.7 307.3 520.8 315.3 535.0 322.0 C549.2 328.7 564.2 334.8 580.0 342.0 C595.8 349.2 613.7 357.8 630.0 365.5 C646.3 373.2 670.0 384.2 678.0 388.0" fill="none" stroke="url(#stip)" stroke-width="7.5" stroke-linecap="butt" transform="translate(-0.35 -0.40)"/>
<path d="M324.2 276.6 C323.0 276.2 319.4 274.8 317.0 274.3 C314.6 273.8 311.8 273.4 310.0 273.4 C308.2 273.4 307.1 273.8 306.0 274.3 C304.9 274.8 304.6 275.3 303.7 276.2 C302.8 277.1 301.4 278.5 300.5 279.8 C299.6 281.1 298.9 282.7 298.2 284.1 C297.4 285.6 296.5 287.1 296.0 288.5 C295.5 289.9 295.2 291.3 295.0 292.8 C294.8 294.3 294.8 295.9 294.9 297.5 C295.0 299.1 295.1 300.4 295.8 302.2 C296.5 303.9 298.5 307.0 299.0 308.0" fill="none" stroke="#000" stroke-width="2.4" />
<path d="M295.0 279.7 C295.6 279.0 297.2 276.8 298.5 275.5 C299.8 274.2 301.2 272.9 303.0 271.8 C304.8 270.7 308.2 269.6 309.2 269.1" fill="none" stroke="#000" stroke-width="1.2" />
<path d="M291.8 286.4 C291.6 287.2 290.6 289.4 290.3 291.0 C290.1 292.6 290.2 294.2 290.3 295.9 C290.4 297.6 290.6 299.4 291.0 301.0 C291.4 302.6 292.3 304.7 292.6 305.4" fill="none" stroke="#000" stroke-width="1.3" />
<g transform="translate(677.0 387.5) rotate(25.5)"><rect x="0" y="-6.0" width="20.0" height="12.0" rx="2" fill="#c0c0c0" stroke="#000" stroke-width="1.6"/><line x1="2" y1="-3.6" x2="16.0" y2="-3.6" stroke="#000" stroke-width="1"/><line x1="2" y1="-1.2" x2="16.0" y2="-1.2" stroke="#000" stroke-width="1"/><line x1="2" y1="1.2" x2="16.0" y2="1.2" stroke="#000" stroke-width="1"/><line x1="2" y1="3.6" x2="16.0" y2="3.6" stroke="#000" stroke-width="1"/><rect x="20.0" y="-5.1" width="11.0" height="10.2" rx="2.5" fill="#c0c0c0" stroke="#000" stroke-width="1.6"/><path d="M31.0 -6.5 L47.0 -7.5 A3.5 7.5 0 0 1 47.0 7.5 L31.0 6.5 A3 7.5 0 0 1 31.0 -6.5 Z" fill="#c0c0c0" stroke="#000" stroke-width="1.6"/><ellipse cx="47.0" cy="0" rx="3.5" ry="7.5" fill="#c0c0c0" stroke="#000" stroke-width="1.6"/><ellipse cx="47.3" cy="0" rx="1.8" ry="3.8" fill="none" stroke="#000" stroke-width="1.6"/><line x1="32.0" y1="-2.6" x2="45.0" y2="-3.0" stroke="#000" stroke-width="1"/><line x1="32.0" y1="2.6" x2="45.0" y2="3.0" stroke="#000" stroke-width="1"/></g>
<g transform="translate(675.0 417.0) rotate(25.5)"><rect x="0" y="-6.0" width="20.0" height="12.0" rx="2" fill="#c0c0c0" stroke="#000" stroke-width="1.6"/><line x1="2" y1="-3.6" x2="16.0" y2="-3.6" stroke="#000" stroke-width="1"/><line x1="2" y1="-1.2" x2="16.0" y2="-1.2" stroke="#000" stroke-width="1"/><line x1="2" y1="1.2" x2="16.0" y2="1.2" stroke="#000" stroke-width="1"/><line x1="2" y1="3.6" x2="16.0" y2="3.6" stroke="#000" stroke-width="1"/><rect x="20.0" y="-5.1" width="11.0" height="10.2" rx="2.5" fill="#c0c0c0" stroke="#000" stroke-width="1.6"/><path d="M31.0 -6.5 L47.0 -7.5 A3.5 7.5 0 0 1 47.0 7.5 L31.0 6.5 A3 7.5 0 0 1 31.0 -6.5 Z" fill="#c0c0c0" stroke="#000" stroke-width="1.6"/><ellipse cx="47.0" cy="0" rx="3.5" ry="7.5" fill="#c0c0c0" stroke="#000" stroke-width="1.6"/><ellipse cx="47.3" cy="0" rx="1.8" ry="3.8" fill="none" stroke="#000" stroke-width="1.6"/><line x1="32.0" y1="-2.6" x2="45.0" y2="-3.0" stroke="#000" stroke-width="1"/><line x1="32.0" y1="2.6" x2="45.0" y2="3.0" stroke="#000" stroke-width="1"/></g>
<g transform="translate(336.5 431) rotate(-27)">
<rect x="8" y="-6" width="22" height="12" rx="2" fill="#c0c0c0" stroke="#000" stroke-width="1.4"/>
<line x1="13.0" y1="-5.5" x2="13.0" y2="5.5" stroke="#000" stroke-width="0.9" />
<line x1="15.8" y1="-5.5" x2="15.8" y2="5.5" stroke="#000" stroke-width="0.9" />
<line x1="18.6" y1="-5.5" x2="18.6" y2="5.5" stroke="#000" stroke-width="0.9" />
<line x1="21.4" y1="-5.5" x2="21.4" y2="5.5" stroke="#000" stroke-width="0.9" />
<line x1="24.2" y1="-5.5" x2="24.2" y2="5.5" stroke="#000" stroke-width="0.9" />
<line x1="27.0" y1="-5.5" x2="27.0" y2="5.5" stroke="#000" stroke-width="0.9" />
<path d="M-8 -7.5 L1 -9.5 L9 -7.5 L9 7.5 L1 9.5 L-8 7.5 C-11 4 -11 -4 -8 -7.5 Z" fill="#c0c0c0" stroke="#000" stroke-width="1.5" />
<line x1="1.0" y1="-9.5" x2="1.0" y2="9.5" stroke="#000" stroke-width="1.1" />
<path d="M9.0 -7.5 C9.3 -6.2 11.0 -2.5 11.0 0.0 C11.0 2.5 9.3 6.2 9.0 7.5" fill="none" stroke="#000" stroke-width="1.1" />
</g>
<path d="M366.8 403 C366 400 369 398 372 398.7 L386 399.3 C391.5 401 394.5 405.5 394.4 411 C394 415 391 417 388 418 L377 422.8 C372 424.5 367 423 366.6 418 Z" fill="#c0c0c0" stroke="#000" stroke-width="1.5" />
<ellipse cx="372.8" cy="415.0" rx="6.2" ry="8.0" fill="none" stroke="#000" stroke-width="1.4" transform="rotate(-20.0 372.8 415.0)" />
<ellipse cx="373.3" cy="415.3" rx="4.0" ry="5.6" fill="none" stroke="#000" stroke-width="1.1" transform="rotate(-20.0 373.3 415.3)" />
<path d="M372.0 398.7 C372.8 399.2 375.8 400.4 377.0 402.0 C378.2 403.6 379.1 407.0 379.5 408.0" fill="none" stroke="#000" stroke-width="1.1" />
<g transform="translate(357.0 440.5) rotate(31.0)"><rect x="0" y="-6.5" width="20.0" height="13.0" rx="2" fill="#c0c0c0" stroke="#000" stroke-width="1.6"/><line x1="2" y1="-3.9" x2="16.0" y2="-3.9" stroke="#000" stroke-width="1"/><line x1="2" y1="-1.3" x2="16.0" y2="-1.3" stroke="#000" stroke-width="1"/><line x1="2" y1="1.3" x2="16.0" y2="1.3" stroke="#000" stroke-width="1"/><line x1="2" y1="3.9" x2="16.0" y2="3.9" stroke="#000" stroke-width="1"/><rect x="20.0" y="-5.5" width="10.0" height="11.0" rx="2.5" fill="#c0c0c0" stroke="#000" stroke-width="1.6"/><path d="M30.0 -7.0 L46.0 -8.0 A3.5 8.0 0 0 1 46.0 8.0 L30.0 7.0 A3 8.0 0 0 1 30.0 -7.0 Z" fill="#c0c0c0" stroke="#000" stroke-width="1.6"/><ellipse cx="46.0" cy="0" rx="3.5" ry="8.0" fill="#c0c0c0" stroke="#000" stroke-width="1.6"/><ellipse cx="46.3" cy="0" rx="1.8" ry="4.0" fill="none" stroke="#000" stroke-width="1.6"/><line x1="31.0" y1="-2.8" x2="44.0" y2="-3.2" stroke="#000" stroke-width="1"/><line x1="31.0" y1="2.8" x2="44.0" y2="3.2" stroke="#000" stroke-width="1"/></g>
<g transform="translate(356.5 470.0) rotate(31.0)"><rect x="0" y="-6.5" width="20.0" height="13.0" rx="2" fill="#c0c0c0" stroke="#000" stroke-width="1.6"/><line x1="2" y1="-3.9" x2="16.0" y2="-3.9" stroke="#000" stroke-width="1"/><line x1="2" y1="-1.3" x2="16.0" y2="-1.3" stroke="#000" stroke-width="1"/><line x1="2" y1="1.3" x2="16.0" y2="1.3" stroke="#000" stroke-width="1"/><line x1="2" y1="3.9" x2="16.0" y2="3.9" stroke="#000" stroke-width="1"/><rect x="20.0" y="-5.5" width="10.0" height="11.0" rx="2.5" fill="#c0c0c0" stroke="#000" stroke-width="1.6"/><path d="M30.0 -7.0 L46.0 -8.0 A3.5 8.0 0 0 1 46.0 8.0 L30.0 7.0 A3 8.0 0 0 1 30.0 -7.0 Z" fill="#c0c0c0" stroke="#000" stroke-width="1.6"/><ellipse cx="46.0" cy="0" rx="3.5" ry="8.0" fill="#c0c0c0" stroke="#000" stroke-width="1.6"/><ellipse cx="46.3" cy="0" rx="1.8" ry="4.0" fill="none" stroke="#000" stroke-width="1.6"/><line x1="31.0" y1="-2.8" x2="44.0" y2="-3.2" stroke="#000" stroke-width="1"/><line x1="31.0" y1="2.8" x2="44.0" y2="3.2" stroke="#000" stroke-width="1"/></g>
<path d="M419.4 447.2 L419.4 481 C422 486 437 486 439.5 481 L439.5 447.2" fill="#c0c0c0" stroke="#000" stroke-width="1.5" />
<ellipse cx="429.5" cy="447.2" rx="10.0" ry="4.0" fill="#c0c0c0" stroke="#000" stroke-width="1.5" />
<path d="M419.6 477.5 C420.3 478.1 421.4 480.4 424.0 481.0 C426.6 481.6 432.4 481.6 435.0 481.0 C437.6 480.4 438.6 478.1 439.3 477.5" fill="none" stroke="#000" stroke-width="1.0" />
<ellipse cx="429.5" cy="447.6" rx="6.5" ry="2.2" fill="none" stroke="#444" stroke-width="0.9" />
<path d="M437.5 497.5 C437 499.5 433 500.8 427.5 500.5 C420 500 416 497 416.6 494.2 C417.5 491 424 489.8 430 490.3 C435 490.8 438.5 492.3 439.3 494.8" fill="none" stroke="#000" stroke-width="1.5" />
<ellipse cx="427.3" cy="495.3" rx="5.6" ry="2.6" fill="none" stroke="#000" stroke-width="1.2" />
<ellipse cx="426.0" cy="498.3" rx="1.2" ry="1.0" fill="none" stroke="#000" stroke-width="1.2" />
<ellipse cx="434.5" cy="497.5" rx="1.1" ry="1.0" fill="none" stroke="#000" stroke-width="1.2" />
<line x1="429.5" y1="486.5" x2="428.5" y2="497.0" stroke="#000" stroke-width="1.0" />
<path d="M347.3 392.3 L366.3 402.3" fill="none" stroke="#000" stroke-width="1.1" stroke-dasharray="10 3 2 3"/>
<path d="M394.4 405.4 L406.5 401.3 L405.0 443.0" fill="none" stroke="#000" stroke-width="1.1" stroke-dasharray="10 3 2 3"/>
<path d="M366.3 422.1 L405.4 444.2 L418.4 448.2" fill="none" stroke="#000" stroke-width="1.1" stroke-dasharray="10 3 2 3"/>
<path d="M405.4 444.2 L405.4 482.0 L412.4 484.5 L412.4 478.3" fill="none" stroke="#000" stroke-width="1.1" stroke-dasharray="10 3 2 3"/>
<path d="M402.0 463.5 L405.4 465.0 L405.4 496.0 L400.0 498.0" fill="none" stroke="#000" stroke-width="1.1" stroke-dasharray="10 3 2 3"/>
<path d="M441.0 446.0 L444.5 447.0 L444.5 462.0 L441.0 463.0" fill="none" stroke="#000" stroke-width="1.1" stroke-dasharray="6 2.5"/>
<path d="M780.5 455.5 C780 452 783 450.2 786 451 L801 447.5 C806.5 447 810 451 810 456 C810 461 807 464 803 465 L792 472.5 C787 474 781.5 472.5 781 467 Z" fill="#c0c0c0" stroke="#000" stroke-width="1.5" />
<ellipse cx="787.2" cy="463.5" rx="6.0" ry="7.8" fill="none" stroke="#000" stroke-width="1.4" transform="rotate(-20.0 787.2 463.5)" />
<ellipse cx="787.6" cy="463.8" rx="3.8" ry="5.4" fill="none" stroke="#000" stroke-width="1.1" transform="rotate(-20.0 787.6 463.8)" />
<path d="M786.0 451.0 C786.8 451.6 789.8 452.9 791.0 454.5 C792.2 456.1 793.1 459.5 793.5 460.5" fill="none" stroke="#000" stroke-width="1.1" />
<g transform="translate(838.5 435.5) rotate(153.5)">
<rect x="6" y="-6.2" width="24" height="12.4" rx="2.5" fill="#c0c0c0" stroke="#000" stroke-width="1.5"/>
<line x1="14.0" y1="-5.7" x2="14.0" y2="5.7" stroke="#000" stroke-width="0.9" />
<line x1="16.6" y1="-5.7" x2="16.6" y2="5.7" stroke="#000" stroke-width="0.9" />
<line x1="19.2" y1="-5.7" x2="19.2" y2="5.7" stroke="#000" stroke-width="0.9" />
<line x1="21.8" y1="-5.7" x2="21.8" y2="5.7" stroke="#000" stroke-width="0.9" />
<line x1="24.4" y1="-5.7" x2="24.4" y2="5.7" stroke="#000" stroke-width="0.9" />
<line x1="27.0" y1="-5.7" x2="27.0" y2="5.7" stroke="#000" stroke-width="0.9" />
<path d="M-7 -8.5 L4 -10 L9 -8.5 L9 8.5 L4 10 L-7 8.5 C-10.5 5 -10.5 -5 -7 -8.5 Z" fill="#c0c0c0" stroke="#000" stroke-width="1.6" />
<path d="M4.0 -10.0 C3.6 -9.2 1.9 -7.5 1.5 -5.0 C1.1 -2.5 1.1 2.5 1.5 5.0 C1.9 7.5 3.6 9.2 4.0 10.0" fill="none" stroke="#000" stroke-width="1.1" />
<path d="M9.0 -8.5 C9.4 -7.1 11.5 -2.8 11.5 0.0 C11.5 2.8 9.4 7.1 9.0 8.5" fill="none" stroke="#000" stroke-width="1.2" />
<path d="M-2.0 -9.3 C-2.4 -8.4 -4.1 -6.2 -4.5 -4.0 C-4.9 -1.8 -4.9 1.8 -4.5 4.0 C-4.1 6.2 -2.4 8.4 -2.0 9.3" fill="none" stroke="#000" stroke-width="1.0" />
</g>
<g transform="translate(791.7 518.7) rotate(-29.5)">
<path d="M0 -7.6 L30 -7.6 C34 -5 34 5 30 7.6 L0 7.6" fill="#c0c0c0" stroke="#000" stroke-width="1.5" />
<ellipse cx="0.0" cy="0.0" rx="5.2" ry="7.6" fill="#c0c0c0" stroke="#000" stroke-width="1.5" />
<path d="M25.0 -7.6 C25.5 -6.8 27.5 -4.8 28.0 -3.0 C28.5 -1.2 28.5 1.2 28.0 3.0 C27.5 4.8 25.5 6.8 25.0 7.6" fill="none" stroke="#000" stroke-width="1.0" />
<path d="M5.0 -7.6 C5.6 -6.7 7.9 -3.8 8.5 -2.0 C9.1 -0.2 8.9 1.4 8.5 3.0 C8.1 4.6 6.4 6.8 6.0 7.6" fill="none" stroke="#000" stroke-width="1.0" />
</g>
<path d="M832 484.5 C836 485 840 489 839.8 494.5 C839.5 500 835.5 503.5 831.5 503 C826.5 502.3 823.5 497.5 823.8 492 C824 488 826 485.5 828.5 484.3" fill="none" stroke="#000" stroke-width="1.5" />
<ellipse cx="831.8" cy="493.8" rx="5.2" ry="6.8" fill="none" stroke="#000" stroke-width="1.2" transform="rotate(-10.0 831.8 493.8)" />
<ellipse cx="829.0" cy="484.8" rx="1.1" ry="1.1" fill="none" stroke="#000" stroke-width="1.2" />
<ellipse cx="835.8" cy="485.2" rx="1.1" ry="1.1" fill="none" stroke="#000" stroke-width="1.2" />
<path d="M785.0 523.7 L778.3 527.0 L778.3 550.3 L743.3 568.7 L743.3 558.7" fill="none" stroke="#000" stroke-width="1.1" stroke-dasharray="10 3 2 3"/>
<path d="M726.5 409.1 L735.5 414.1 L735.5 446.2 L723.5 441.2" fill="none" stroke="#000" stroke-width="1.1" stroke-dasharray="10 3 2 3"/>
<path d="M735.5 430.1 L780.0 455.3" fill="none" stroke="#000" stroke-width="1.1" stroke-dasharray="10 3 2 3"/>
<path d="M756.7 483.7 L781.7 472.0" fill="none" stroke="#000" stroke-width="1.1" stroke-dasharray="10 3 2 3"/>
<path d="M705.4 483.3 L707.4 462.2 L729.5 451.2 L729.5 467.3" fill="none" stroke="#000" stroke-width="1.1" stroke-dasharray="10 3 2 3"/>
<path d="M720.5 478.3 L722.5 463.2 L736.5 455.2 L737.5 465.3 L760.0 476.3" fill="none" stroke="#000" stroke-width="1.1" stroke-dasharray="10 3 2 3"/>
<g style="fill:none;stroke:#686868;stroke-width:0.9px;font-family:'DejaVu Serif','Liberation Serif',serif;font-weight:bold">
<text x="347 455 555.5" y="337" font-size="122" style="fill:none">АВТ<tspan x="646" font-size="124" style="font-family:'DejaVu Sans',sans-serif">О</tspan></text>
<text x="350 412 484.5 549.5 616.5 691" y="406.8" font-size="77" style="fill:none">АЛЬЯНС</text>
</g>
<path d="M173.8 304.8 L229.8 304.8 L224.0 317.9 L165.7 317.9Z" fill="none" stroke="#686868" stroke-width="0.8" />
<path d="M165.7 319.5 L224.0 319.5 L217.0 334.7 L158.2 334.7Z" fill="none" stroke="#686868" stroke-width="0.8" />
<path d="M158.2 336.5 L216.5 336.5 L210.0 351.7 L150.5 351.7Z" fill="none" stroke="#686868" stroke-width="0.8" />
<path d="M210.0 355.2 L149.3 355.2 L189.0 407.0 L245.0 407.0" fill="none" stroke="#686868" stroke-width="0.8" />
<path d="M331.3 304.3 L254.3 326.5 L220.5 370.8 L170.3 370.8" fill="none" stroke="#686868" stroke-width="0.8" />
<path d="M327.8 310.2 L256.7 330.0 L225.2 376.7 L175.0 376.7" fill="none" stroke="#686868" stroke-width="0.8" />
<path d="M324.3 331.2 L267.2 342.8 L236.8 393.0 L194.8 393.0 L201.8 407.0" fill="none" stroke="#686868" stroke-width="0.8" />
<path d="M320.8 337.0 L268.3 347.5 L239.2 396.5 L197.2 396.5" fill="none" stroke="#686868" stroke-width="0.8" />
<path d="M245.0 407.0 L277.7 359.2" fill="none" stroke="#686868" stroke-width="0.8" />
<path d="M280.0 359.2 L316.2 359.2 L306.8 377.8 L269.5 377.8Z" fill="none" stroke="#686868" stroke-width="0.8" />
<path d="M267.2 380.9 L303.3 380.9 L295.2 393.0 L259.0 393.0Z" fill="none" stroke="#686868" stroke-width="0.8" />
<path d="M257.8 395.8 L292.8 395.8 L285.8 407.0 L249.7 407.0Z" fill="none" stroke="#686868" stroke-width="0.8" />
<g opacity="0.999">
<line x1="492.3" y1="39.4" x2="492.3" y2="48.3" stroke="#000" stroke-width="1.4" />
<line x1="492.3" y1="48.3" x2="424.1" y2="126.2" stroke="#000" stroke-width="1.4" />
<line x1="492.3" y1="48.3" x2="462.2" y2="111.2" stroke="#000" stroke-width="1.4" />
<line x1="492.3" y1="48.3" x2="515.4" y2="106.2" stroke="#000" stroke-width="1.4" />
<line x1="492.3" y1="48.3" x2="539.5" y2="103.1" stroke="#000" stroke-width="1.4" />
<line x1="684.6" y1="74.1" x2="684.6" y2="122.3" stroke="#000" stroke-width="1.6" />
<line x1="778.5" y1="107.2" x2="796.6" y2="137.3" stroke="#000" stroke-width="1.4" />
<line x1="408.6" y1="188.0" x2="458.1" y2="195.2" stroke="#000" stroke-width="1.4" />
<line x1="571.5" y1="174.2" x2="586.6" y2="223.3" stroke="#000" stroke-width="1.4" />
<line x1="723.5" y1="222.1" x2="701.4" y2="245.2" stroke="#000" stroke-width="1.4" />
<line x1="650.2" y1="305.4" x2="692.4" y2="311.4" stroke="#000" stroke-width="1.4" />
<line x1="617.1" y1="264.2" x2="624.1" y2="264.2" stroke="#000" stroke-width="1.4" />
<path d="M793.3 391.0 L798.3 401.0 L798.0 456.4" fill="none" stroke="#000" stroke-width="1.4" />
<line x1="798.3" y1="401.0" x2="832.9" y2="427.0" stroke="#000" stroke-width="1.4" />
<line x1="315.1" y1="490.3" x2="315.1" y2="476.3" stroke="#000" stroke-width="1.4" />
<line x1="315.1" y1="476.3" x2="338.2" y2="433.1" stroke="#000" stroke-width="1.4" />
<line x1="315.1" y1="476.3" x2="386.3" y2="414.1" stroke="#000" stroke-width="1.4" />
<line x1="388.3" y1="498.0" x2="368.3" y2="522.0" stroke="#000" stroke-width="1.4" />
<line x1="393.3" y1="467.0" x2="401.7" y2="518.7" stroke="#000" stroke-width="1.4" />
<line x1="421.7" y1="497.0" x2="440.0" y2="548.7" stroke="#000" stroke-width="1.4" />
<line x1="435.0" y1="463.7" x2="475.7" y2="523.7" stroke="#000" stroke-width="1.4" />
<line x1="641.7" y1="502.0" x2="615.0" y2="568.7" stroke="#000" stroke-width="1.4" />
<line x1="809.3" y1="517.0" x2="790.0" y2="578.7" stroke="#000" stroke-width="1.4" />
<line x1="832.3" y1="503.7" x2="830.0" y2="547.0" stroke="#000" stroke-width="1.4" />
<path d="M240.1 326.3 C240.8 335.2 242.3 360.2 244.0 380.0 C245.7 399.8 248.6 428.3 250.2 445.0 C251.8 461.7 252.8 474.4 253.3 480.3" fill="none" stroke="#000" stroke-width="1.4" />
<text x="491.7" y="33.3" font-size="19.5" text-anchor="middle" stroke="#000" stroke-width="0.3" >10</text>
<text x="684.2" y="66.0" font-size="19.5" text-anchor="middle" stroke="#000" stroke-width="0.3" >9</text>
<text x="802.6" y="157.4" font-size="19.5" text-anchor="middle" stroke="#000" stroke-width="0.3" >2</text>
<text x="397.6" y="194.3" font-size="19.5" text-anchor="middle" stroke="#000" stroke-width="0.3" >5</text>
<text x="589.6" y="245.4" font-size="19.5" text-anchor="middle" stroke="#000" stroke-width="0.3" >1</text>
<text x="731.5" y="215.0" font-size="19.5" text-anchor="middle" stroke="#000" stroke-width="0.3" >6</text>
<text x="611.1" y="274.3" font-size="19.5" text-anchor="middle" stroke="#000" stroke-width="0.3" >B</text>
<text x="661.2" y="287.3" font-size="19.5" text-anchor="middle" stroke="#000" stroke-width="0.3" >A</text>
<text x="705.4" y="319.4" font-size="19.5" text-anchor="middle" stroke="#000" stroke-width="0.3" >7</text>
<text x="787.7" y="382.7" font-size="19.5" text-anchor="middle" stroke="#000" stroke-width="0.3" >8</text>
<text x="314.3" y="513.4" font-size="19.5" text-anchor="middle" stroke="#000" stroke-width="0.3" >8</text>
<text x="366.0" y="542.0" font-size="19.5" text-anchor="middle" stroke="#000" stroke-width="0.3" >B</text>
<text x="401.7" y="538.7" font-size="19.5" text-anchor="middle" stroke="#000" stroke-width="0.3" >A</text>
<text x="445.7" y="573.7" font-size="19.5" text-anchor="middle" stroke="#000" stroke-width="0.3" >3</text>
<text x="486.0" y="546.0" font-size="19.5" text-anchor="middle" stroke="#000" stroke-width="0.3" >4</text>
<text x="609.3" y="592.7" font-size="19.5" text-anchor="middle" stroke="#000" stroke-width="0.3" >11</text>
<text x="788.3" y="601.0" font-size="19.5" text-anchor="middle" stroke="#000" stroke-width="0.3" >4</text>
<text x="827.7" y="570.3" font-size="19.5" text-anchor="middle" stroke="#000" stroke-width="0.3" >3</text>
<text x="253.3" y="498.7" font-size="18" text-anchor="middle" stroke="#000" stroke-width="0.3" >12</text>
<text x="83.7" y="436.2" font-size="19.5" text-anchor="middle" stroke="#000" stroke-width="0.3" >M</text>
<text x="126.8" y="454.3" font-size="19.5" text-anchor="middle" stroke="#000" stroke-width="0.3" >S</text>
<text x="85.7" y="261.2" font-size="14.5" text-anchor="middle" stroke="#000" stroke-width="0.3" >M</text>
<text x="108.8" y="276.3" font-size="14.5" text-anchor="middle" stroke="#000" stroke-width="0.3" >S</text>
<text x="108.2" y="196.4" font-size="14.5" text-anchor="middle" stroke="#000" stroke-width="0.3" >P</text>
<text x="79.1" y="181.5" font-size="12.5" text-anchor="middle" stroke="#000" stroke-width="0.3" >T</text>
</g>
</svg>
</body></html>
